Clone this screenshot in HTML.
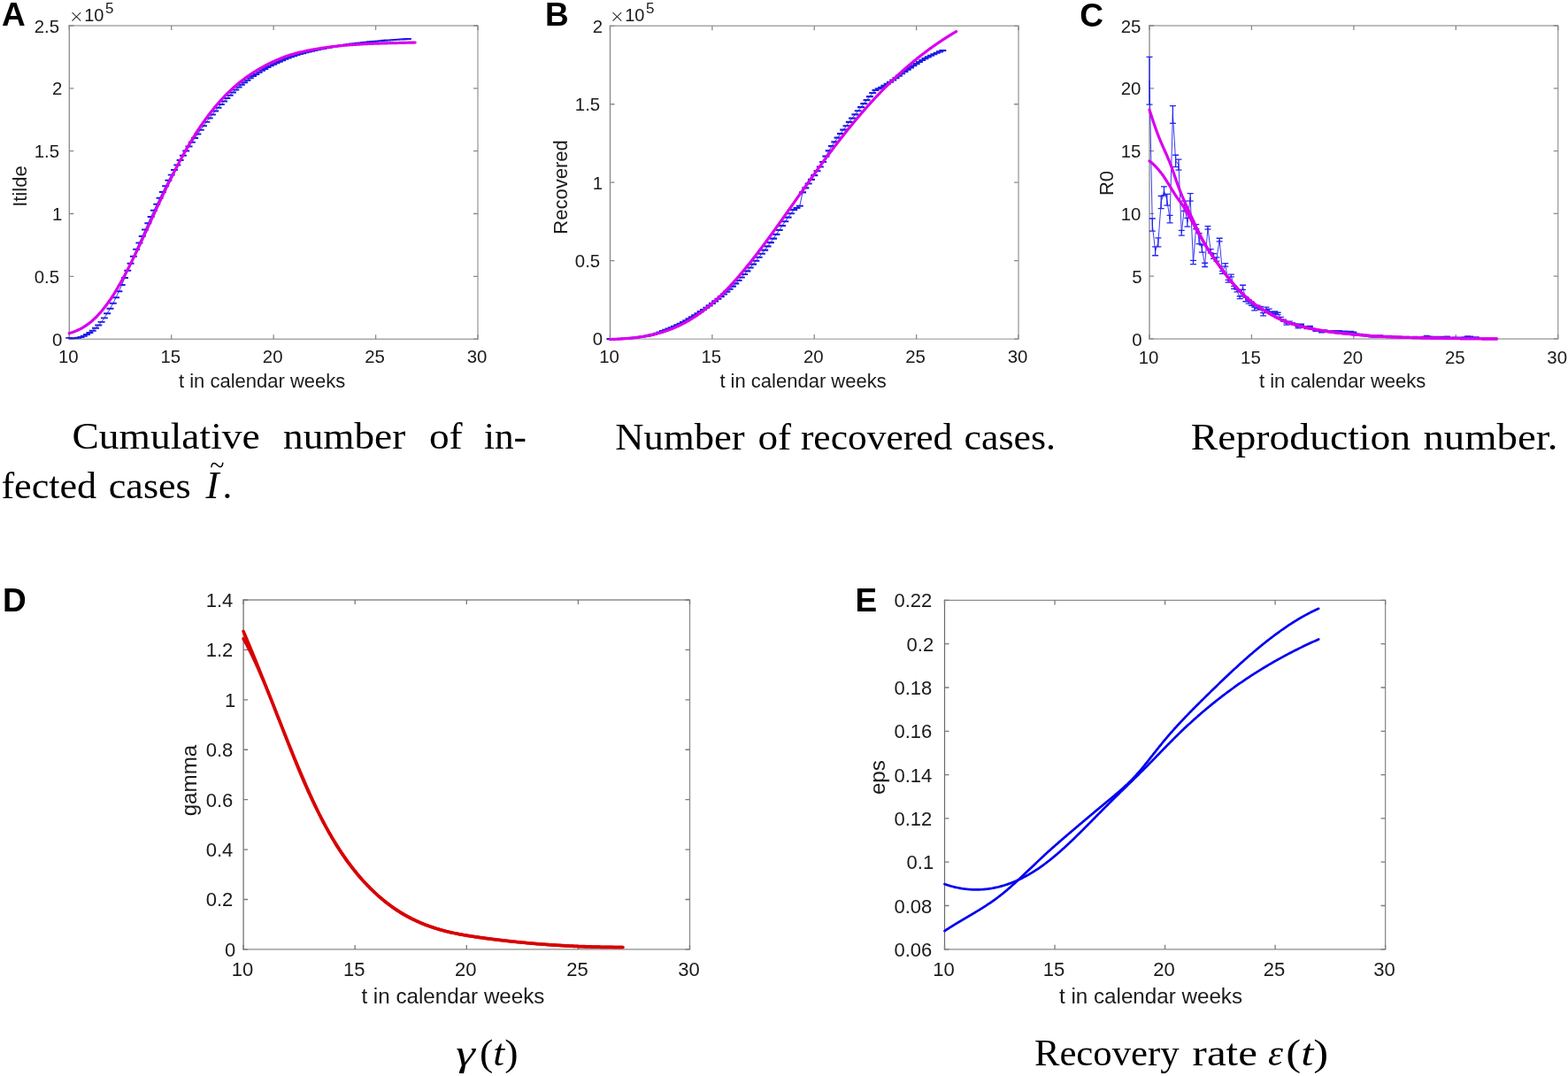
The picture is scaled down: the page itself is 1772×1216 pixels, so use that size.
<!DOCTYPE html>
<html><head><meta charset="utf-8"><title>Figure</title>
<style>html,body{margin:0;padding:0;background:#fff;}body{width:1772px;height:1216px;overflow:hidden;}svg{display:block;}</style>
</head><body>
<svg width="1772" height="1216" viewBox="0 0 1772 1216">
<rect width="1772" height="1216" fill="#fff"/>
<path d="M78.30 29.00H540.00M78.30 383.20H540.00M540.00 29.00V383.20" stroke="#a6a6a6" stroke-width="1.45" fill="none" stroke-linecap="square"/>
<path d="M78.30 29.00V383.20" stroke="#8a8a8a" stroke-width="1.30" fill="none" stroke-linecap="square"/>
<path d="M78.30 383.20v-5.00M78.30 29.00v5.00M193.72 383.20v-5.00M193.72 29.00v5.00M309.15 383.20v-5.00M309.15 29.00v5.00M424.57 383.20v-5.00M424.57 29.00v5.00M540.00 383.20v-5.00M540.00 29.00v5.00M78.30 383.20h5.00M540.00 383.20h-5.00M78.30 312.36h5.00M540.00 312.36h-5.00M78.30 241.52h5.00M540.00 241.52h-5.00M78.30 170.68h5.00M540.00 170.68h-5.00M78.30 99.84h5.00M540.00 99.84h-5.00M78.30 29.00h5.00M540.00 29.00h-5.00" stroke="#8a8a8a" stroke-width="1.3" fill="none"/>
<polyline points="78.30,381.89 81.60,382.17 84.90,382.11 88.19,381.71 91.49,380.98 94.79,379.75 98.09,378.03 101.38,376.02 104.68,373.66 107.98,370.83 111.28,367.59 114.58,363.88 117.87,359.35 121.17,354.20 124.47,348.71 127.77,342.78 131.07,336.24 134.36,329.28 137.66,321.96 140.96,313.99 144.26,305.82 147.56,297.78 150.85,289.67 154.15,281.84 157.45,274.40 160.75,266.98 164.04,259.55 167.34,252.18 170.64,244.95 173.94,237.84 177.24,230.78 180.53,223.83 183.83,217.02 187.13,210.31 190.43,203.75 193.72,197.64 197.02,191.91 200.32,186.40 203.62,181.01 206.92,175.67 210.21,170.51 213.51,165.54 216.81,160.75 220.11,156.08 223.41,151.46 226.70,146.87 230.00,142.30 233.30,137.86 236.60,133.58 239.89,129.47 243.19,125.52 246.49,121.70 249.79,118.02 253.09,114.48 256.38,111.05 259.68,107.73 262.98,104.54 266.28,101.48 269.58,98.56 272.87,95.78 276.17,93.17 279.47,90.66 282.77,88.28 286.06,86.04 289.36,83.92 292.66,81.85 295.96,79.85 299.26,77.93 302.55,76.09 305.85,74.36 309.15,72.73 312.45,71.17 315.75,69.65 319.04,68.18 322.34,66.78 325.64,65.47 328.94,64.25 332.24,63.15 335.53,62.10 338.83,61.11 342.13,60.17 345.43,59.29 348.72,58.46 352.02,57.68 355.32,56.95 358.62,56.25 361.92,55.59 365.21,54.95 368.51,54.32 371.81,53.70 375.11,53.09 378.41,52.50 381.70,51.94 385.00,51.41 388.30,50.91 391.60,50.44 394.89,50.00 398.19,49.57 401.49,49.16 404.79,48.76 408.09,48.37 411.38,48.00 414.68,47.65 417.98,47.31 421.28,46.98 424.57,46.68 427.87,46.38 431.17,46.11 434.47,45.85 437.77,45.60 441.06,45.35 444.36,45.11 447.66,44.87 450.96,44.63 454.26,44.40 457.55,44.17 460.85,43.95" fill="none" stroke="#1c1ce6" stroke-width="0.90" stroke-linejoin="round" stroke-linecap="round"/>
<path d="M78.30 381.54V382.24M74.30 381.54h8.00M74.30 382.24h8.00M81.60 381.82V382.53M77.60 381.82h8.00M77.60 382.53h8.00M84.90 381.75V382.46M80.90 381.75h8.00M80.90 382.46h8.00M88.19 381.36V382.07M84.19 381.36h8.00M84.19 382.07h8.00M91.49 380.63V381.34M87.49 380.63h8.00M87.49 381.34h8.00M94.79 379.40V380.11M90.79 379.40h8.00M90.79 380.11h8.00M98.09 377.68V378.39M94.09 377.68h8.00M94.09 378.39h8.00M101.38 375.67V376.38M97.38 375.67h8.00M97.38 376.38h8.00M104.68 373.30V374.01M100.68 373.30h8.00M100.68 374.01h8.00M107.98 370.48V371.19M103.98 370.48h8.00M103.98 371.19h8.00M111.28 367.23V367.94M107.28 367.23h8.00M107.28 367.94h8.00M114.58 363.53V364.23M110.58 363.53h8.00M110.58 364.23h8.00M117.87 359.00V359.71M113.87 359.00h8.00M113.87 359.71h8.00M121.17 353.85V354.56M117.17 353.85h8.00M117.17 354.56h8.00M124.47 348.35V349.06M120.47 348.35h8.00M120.47 349.06h8.00M127.77 342.42V343.13M123.77 342.42h8.00M123.77 343.13h8.00M131.07 335.89V336.60M127.07 335.89h8.00M127.07 336.60h8.00M134.36 328.92V329.63M130.36 328.92h8.00M130.36 329.63h8.00M137.66 321.61V322.31M133.66 321.61h8.00M133.66 322.31h8.00M140.96 313.64V314.35M136.96 313.64h8.00M136.96 314.35h8.00M144.26 305.46V306.17M140.26 305.46h8.00M140.26 306.17h8.00M147.56 297.43V298.14M143.56 297.43h8.00M143.56 298.14h8.00M150.85 289.32V290.03M146.85 289.32h8.00M146.85 290.03h8.00M154.15 281.49V282.20M150.15 281.49h8.00M150.15 282.20h8.00M157.45 274.04V274.75M153.45 274.04h8.00M153.45 274.75h8.00M160.75 266.63V267.34M156.75 266.63h8.00M156.75 267.34h8.00M164.04 259.20V259.91M160.04 259.20h8.00M160.04 259.91h8.00M167.34 251.82V252.53M163.34 251.82h8.00M163.34 252.53h8.00M170.64 244.60V245.31M166.64 244.60h8.00M166.64 245.31h8.00M173.94 237.49V238.20M169.94 237.49h8.00M169.94 238.20h8.00M177.24 230.43V231.14M173.24 230.43h8.00M173.24 231.14h8.00M180.53 223.47V224.18M176.53 223.47h8.00M176.53 224.18h8.00M183.83 216.67V217.38M179.83 216.67h8.00M179.83 217.38h8.00M187.13 209.95V210.66M183.13 209.95h8.00M183.13 210.66h8.00M190.43 203.39V204.10M186.43 203.39h8.00M186.43 204.10h8.00M193.72 197.28V197.99M189.72 197.28h8.00M189.72 197.99h8.00M197.02 191.55V192.26M193.02 191.55h8.00M193.02 192.26h8.00M200.32 186.04V186.75M196.32 186.04h8.00M196.32 186.75h8.00M203.62 180.65V181.36M199.62 180.65h8.00M199.62 181.36h8.00M206.92 175.31V176.02M202.92 175.31h8.00M202.92 176.02h8.00M210.21 170.16V170.86M206.21 170.16h8.00M206.21 170.86h8.00M213.51 165.19V165.90M209.51 165.19h8.00M209.51 165.90h8.00M216.81 160.40V161.11M212.81 160.40h8.00M212.81 161.11h8.00M220.11 155.72V156.43M216.11 155.72h8.00M216.11 156.43h8.00M223.41 151.10V151.81M219.41 151.10h8.00M219.41 151.81h8.00M226.70 146.51V147.22M222.70 146.51h8.00M222.70 147.22h8.00M230.00 141.94V142.65M226.00 141.94h8.00M226.00 142.65h8.00M233.30 137.50V138.21M229.30 137.50h8.00M229.30 138.21h8.00M236.60 133.22V133.93M232.60 133.22h8.00M232.60 133.93h8.00M239.89 129.12V129.82M235.89 129.12h8.00M235.89 129.82h8.00M243.19 125.16V125.87M239.19 125.16h8.00M239.19 125.87h8.00M246.49 121.34V122.05M242.49 121.34h8.00M242.49 122.05h8.00M249.79 117.67V118.37M245.79 117.67h8.00M245.79 118.37h8.00M253.09 114.13V114.84M249.09 114.13h8.00M249.09 114.84h8.00M256.38 110.69V111.40M252.38 110.69h8.00M252.38 111.40h8.00M259.68 107.37V108.08M255.68 107.37h8.00M255.68 108.08h8.00M262.98 104.18V104.89M258.98 104.18h8.00M258.98 104.89h8.00M266.28 101.13V101.84M262.28 101.13h8.00M262.28 101.84h8.00M269.58 98.21V98.91M265.58 98.21h8.00M265.58 98.91h8.00M272.87 95.43V96.14M268.87 95.43h8.00M268.87 96.14h8.00M276.17 92.81V93.52M272.17 92.81h8.00M272.17 93.52h8.00M279.47 90.30V91.01M275.47 90.30h8.00M275.47 91.01h8.00M282.77 87.92V88.63M278.77 87.92h8.00M278.77 88.63h8.00M286.06 85.69V86.40M282.06 85.69h8.00M282.06 86.40h8.00M289.36 83.56V84.27M285.36 83.56h8.00M285.36 84.27h8.00M292.66 81.50V82.20M288.66 81.50h8.00M288.66 82.20h8.00M295.96 79.50V80.20M291.96 79.50h8.00M291.96 80.20h8.00M299.26 77.57V78.28M295.26 77.57h8.00M295.26 78.28h8.00M302.55 75.74V76.45M298.55 75.74h8.00M298.55 76.45h8.00M305.85 74.01V74.71M301.85 74.01h8.00M301.85 74.71h8.00M309.15 72.37V73.08M305.15 72.37h8.00M305.15 73.08h8.00M312.45 70.81V71.52M308.45 70.81h8.00M308.45 71.52h8.00M315.75 69.29V70.00M311.75 69.29h8.00M311.75 70.00h8.00M319.04 67.83V68.54M315.04 67.83h8.00M315.04 68.54h8.00M322.34 66.43V67.14M318.34 66.43h8.00M318.34 67.14h8.00M325.64 65.11V65.82M321.64 65.11h8.00M321.64 65.82h8.00M328.94 63.90V64.61M324.94 63.90h8.00M324.94 64.61h8.00M332.24 62.79V63.50M328.24 62.79h8.00M328.24 63.50h8.00M335.53 61.75V62.46M331.53 61.75h8.00M331.53 62.46h8.00M338.83 60.75V61.46M334.83 60.75h8.00M334.83 61.46h8.00M342.13 59.81V60.52M338.13 59.81h8.00M338.13 60.52h8.00M345.43 58.93V59.64M341.43 58.93h8.00M341.43 59.64h8.00M348.72 58.11V58.81M344.72 58.11h8.00M344.72 58.81h8.00M352.02 57.33V58.04M348.02 57.33h8.00M348.02 58.04h8.00M355.32 56.59V57.30M351.32 56.59h8.00M351.32 57.30h8.00M358.62 55.90V56.61M354.62 55.90h8.00M354.62 56.61h8.00M361.92 55.24V55.95M357.92 55.24h8.00M357.92 55.95h8.00M365.21 54.60V55.31M361.21 54.60h8.00M361.21 55.31h8.00M368.51 53.96V54.67M364.51 53.96h8.00M364.51 54.67h8.00M371.81 53.34V54.05M367.81 53.34h8.00M367.81 54.05h8.00M375.11 52.74V53.44M371.11 52.74h8.00M371.11 53.44h8.00M378.41 52.15V52.86M374.41 52.15h8.00M374.41 52.86h8.00M381.70 51.59V52.30M377.70 51.59h8.00M377.70 52.30h8.00M385.00 51.05V51.76M381.00 51.05h8.00M381.00 51.76h8.00M388.30 50.55V51.26M384.30 50.55h8.00M384.30 51.26h8.00M391.60 50.09V50.80M387.60 50.09h8.00M387.60 50.80h8.00M394.89 49.65V50.35M390.89 49.65h8.00M390.89 50.35h8.00M398.19 49.22V49.93M394.19 49.22h8.00M394.19 49.93h8.00M401.49 48.80V49.51M397.49 48.80h8.00M397.49 49.51h8.00M404.79 48.40V49.11M400.79 48.40h8.00M400.79 49.11h8.00M408.09 48.02V48.73M404.09 48.02h8.00M404.09 48.73h8.00M411.38 47.65V48.36M407.38 47.65h8.00M407.38 48.36h8.00M414.68 47.29V48.00M410.68 47.29h8.00M410.68 48.00h8.00M417.98 46.95V47.66M413.98 46.95h8.00M413.98 47.66h8.00M421.28 46.63V47.34M417.28 46.63h8.00M417.28 47.34h8.00M424.57 46.32V47.03M420.57 46.32h8.00M420.57 47.03h8.00M427.87 46.03V46.74M423.87 46.03h8.00M423.87 46.74h8.00M431.17 45.75V46.46M427.17 45.75h8.00M427.17 46.46h8.00M434.47 45.49V46.20M430.47 45.49h8.00M430.47 46.20h8.00M437.77 45.24V45.95M433.77 45.24h8.00M433.77 45.95h8.00M441.06 45.00V45.71M437.06 45.00h8.00M437.06 45.71h8.00M444.36 44.76V45.47M440.36 44.76h8.00M440.36 45.47h8.00M447.66 44.52V45.23M443.66 44.52h8.00M443.66 45.23h8.00M450.96 44.28V44.99M446.96 44.28h8.00M446.96 44.99h8.00M454.26 44.05V44.76M450.26 44.05h8.00M450.26 44.76h8.00M457.55 43.82V44.53M453.55 43.82h8.00M453.55 44.53h8.00M460.85 43.60V44.31M456.85 43.60h8.00M456.85 44.31h8.00" stroke="#1c1ce6" stroke-width="1.25" fill="none"/>
<polyline points="78.30,376.65 79.28,376.38 80.26,376.09 81.24,375.77 82.22,375.43 83.20,375.08 84.18,374.70 85.16,374.30 86.14,373.89 87.12,373.46 88.10,373.01 89.07,372.56 90.05,372.09 91.03,371.59 92.01,371.07 92.99,370.52 93.97,369.94 94.95,369.33 95.93,368.70 96.91,368.05 97.89,367.37 98.87,366.67 99.85,365.96 100.83,365.23 101.81,364.47 102.79,363.69 103.77,362.87 104.75,362.01 105.73,361.12 106.71,360.20 107.69,359.26 108.67,358.28 109.64,357.28 110.62,356.26 111.60,355.22 112.58,354.16 113.56,353.07 114.54,351.95 115.52,350.78 116.50,349.59 117.48,348.35 118.46,347.09 119.44,345.80 120.42,344.48 121.40,343.14 122.38,341.77 123.36,340.39 124.34,338.98 125.32,337.55 126.30,336.09 127.28,334.58 128.26,333.05 129.24,331.49 130.21,329.89 131.19,328.27 132.17,326.63 133.15,324.97 134.13,323.29 135.11,321.59 136.09,319.88 137.07,318.15 138.05,316.39 139.03,314.59 140.01,312.77 140.99,310.93 141.97,309.07 142.95,307.18 143.93,305.28 144.91,303.37 145.89,301.44 146.87,299.51 147.85,297.57 148.83,295.61 149.81,293.62 150.78,291.62 151.76,289.60 152.74,287.57 153.72,285.52 154.70,283.46 155.68,281.40 156.66,279.32 157.64,277.25 158.62,275.17 159.60,273.09 160.58,271.00 161.56,268.90 162.54,266.79 163.52,264.67 164.50,262.54 165.48,260.41 166.46,258.28 167.44,256.15 168.42,254.02 169.40,251.89 170.38,249.78 171.35,247.66 172.33,245.54 173.31,243.42 174.29,241.30 175.27,239.17 176.25,237.05 177.23,234.94 178.21,232.82 179.19,230.72 180.17,228.62 181.15,226.54 182.13,224.47 183.11,222.40 184.09,220.34 185.07,218.29 186.05,216.23 187.03,214.19 188.01,212.16 188.99,210.13 189.97,208.12 190.94,206.11 191.92,204.13 192.90,202.15 193.88,200.20 194.86,198.25 195.84,196.31 196.82,194.39 197.80,192.47 198.78,190.57 199.76,188.67 200.74,186.80 201.72,184.93 202.70,183.09 203.68,181.26 204.66,179.44 205.64,177.65 206.62,175.87 207.60,174.10 208.58,172.34 209.56,170.60 210.54,168.87 211.51,167.16 212.49,165.46 213.47,163.78 214.45,162.12 215.43,160.48 216.41,158.85 217.39,157.25 218.37,155.65 219.35,154.08 220.33,152.51 221.31,150.96 222.29,149.43 223.27,147.91 224.25,146.41 225.23,144.93 226.21,143.46 227.19,142.02 228.17,140.59 229.15,139.18 230.13,137.78 231.11,136.40 232.08,135.04 233.06,133.68 234.04,132.35 235.02,131.03 236.00,129.72 236.98,128.44 237.96,127.17 238.94,125.91 239.92,124.68 240.90,123.46 241.88,122.26 242.86,121.07 243.84,119.89 244.82,118.73 245.80,117.58 246.78,116.45 247.76,115.33 248.74,114.23 249.72,113.15 250.70,112.08 251.68,111.02 252.65,109.98 253.63,108.96 254.61,107.94 255.59,106.94 256.57,105.96 257.55,104.98 258.53,104.02 259.51,103.08 260.49,102.15 261.47,101.23 262.45,100.33 263.43,99.44 264.41,98.56 265.39,97.70 266.37,96.84 267.35,96.00 268.33,95.17 269.31,94.35 270.29,93.55 271.27,92.76 272.25,91.97 273.22,91.21 274.20,90.45 275.18,89.71 276.16,88.97 277.14,88.25 278.12,87.53 279.10,86.82 280.08,86.13 281.06,85.44 282.04,84.77 283.02,84.11 284.00,83.46 284.98,82.83 285.96,82.21 286.94,81.61 287.92,81.00 288.90,80.40 289.88,79.81 290.86,79.22 291.84,78.64 292.82,78.07 293.79,77.49 294.77,76.93 295.75,76.37 296.73,75.82 297.71,75.28 298.69,74.74 299.67,74.21 300.65,73.69 301.63,73.18 302.61,72.67 303.59,72.17 304.57,71.68 305.55,71.20 306.53,70.73 307.51,70.27 308.49,69.82 309.47,69.38 310.45,68.94 311.43,68.51 312.41,68.07 313.39,67.65 314.36,67.23 315.34,66.81 316.32,66.40 317.30,65.99 318.28,65.59 319.26,65.20 320.24,64.81 321.22,64.44 322.20,64.07 323.18,63.71 324.16,63.36 325.14,63.02 326.12,62.68 327.10,62.36 328.08,62.05 329.06,61.75 330.04,61.47 331.02,61.19 332.00,60.92 332.98,60.66 333.96,60.40 334.93,60.14 335.91,59.89 336.89,59.64 337.87,59.40 338.85,59.16 339.83,58.93 340.81,58.69 341.79,58.47 342.77,58.25 343.75,58.03 344.73,57.81 345.71,57.60 346.69,57.39 347.67,57.19 348.65,56.99 349.63,56.80 350.61,56.61 351.59,56.42 352.57,56.23 353.55,56.05 354.53,55.88 355.50,55.70 356.48,55.54 357.46,55.37 358.44,55.21 359.42,55.05 360.40,54.89 361.38,54.74 362.36,54.59 363.34,54.44 364.32,54.30 365.30,54.15 366.28,54.01 367.26,53.87 368.24,53.73 369.22,53.59 370.20,53.46 371.18,53.32 372.16,53.19 373.14,53.07 374.12,52.94 375.09,52.82 376.07,52.69 377.05,52.57 378.03,52.46 379.01,52.34 379.99,52.23 380.97,52.12 381.95,52.01 382.93,51.91 383.91,51.81 384.89,51.71 385.87,51.61 386.85,51.52 387.83,51.42 388.81,51.34 389.79,51.25 390.77,51.17 391.75,51.09 392.73,51.01 393.71,50.93 394.69,50.86 395.66,50.78 396.64,50.71 397.62,50.64 398.60,50.56 399.58,50.49 400.56,50.43 401.54,50.36 402.52,50.29 403.50,50.23 404.48,50.16 405.46,50.10 406.44,50.04 407.42,49.98 408.40,49.92 409.38,49.86 410.36,49.81 411.34,49.75 412.32,49.70 413.30,49.65 414.28,49.60 415.26,49.55 416.23,49.51 417.21,49.46 418.19,49.42 419.17,49.37 420.15,49.33 421.13,49.29 422.11,49.26 423.09,49.22 424.07,49.19 425.05,49.15 426.03,49.12 427.01,49.09 427.99,49.06 428.97,49.03 429.95,49.00 430.93,48.97 431.91,48.95 432.89,48.92 433.87,48.89 434.85,48.87 435.83,48.84 436.80,48.82 437.78,48.80 438.76,48.77 439.74,48.75 440.72,48.72 441.70,48.70 442.68,48.68 443.66,48.65 444.64,48.63 445.62,48.60 446.60,48.58 447.58,48.55 448.56,48.53 449.54,48.50 450.52,48.48 451.50,48.45 452.48,48.43 453.46,48.40 454.44,48.38 455.42,48.35 456.40,48.33 457.37,48.31 458.35,48.28 459.33,48.26 460.31,48.23 461.29,48.21 462.27,48.19 463.25,48.16 464.23,48.14 465.21,48.11 466.19,48.09 467.17,48.07 468.15,48.05 469.13,48.02" fill="none" stroke="#d800ee" stroke-width="3.20" stroke-linejoin="round" stroke-linecap="round"/>
<text x="70.30" y="390.80" font-family='"Liberation Sans", Arial, Helvetica, sans-serif' font-size="20.40" font-weight="normal" fill="#1a1a1a" text-anchor="end">0</text>
<text x="67.10" y="319.96" font-family='"Liberation Sans", Arial, Helvetica, sans-serif' font-size="20.40" font-weight="normal" fill="#1a1a1a" text-anchor="end">0.5</text>
<text x="70.30" y="249.12" font-family='"Liberation Sans", Arial, Helvetica, sans-serif' font-size="20.40" font-weight="normal" fill="#1a1a1a" text-anchor="end">1</text>
<text x="67.10" y="178.28" font-family='"Liberation Sans", Arial, Helvetica, sans-serif' font-size="20.40" font-weight="normal" fill="#1a1a1a" text-anchor="end">1.5</text>
<text x="70.30" y="107.44" font-family='"Liberation Sans", Arial, Helvetica, sans-serif' font-size="20.40" font-weight="normal" fill="#1a1a1a" text-anchor="end">2</text>
<text x="67.10" y="36.60" font-family='"Liberation Sans", Arial, Helvetica, sans-serif' font-size="20.40" font-weight="normal" fill="#1a1a1a" text-anchor="end">2.5</text>
<text x="77.30" y="410.30" font-family='"Liberation Sans", Arial, Helvetica, sans-serif' font-size="20.40" font-weight="normal" fill="#1a1a1a" text-anchor="middle">10</text>
<text x="192.72" y="410.30" font-family='"Liberation Sans", Arial, Helvetica, sans-serif' font-size="20.40" font-weight="normal" fill="#1a1a1a" text-anchor="middle">15</text>
<text x="308.15" y="410.30" font-family='"Liberation Sans", Arial, Helvetica, sans-serif' font-size="20.40" font-weight="normal" fill="#1a1a1a" text-anchor="middle">20</text>
<text x="423.57" y="410.30" font-family='"Liberation Sans", Arial, Helvetica, sans-serif' font-size="20.40" font-weight="normal" fill="#1a1a1a" text-anchor="middle">25</text>
<text x="539.00" y="410.30" font-family='"Liberation Sans", Arial, Helvetica, sans-serif' font-size="20.40" font-weight="normal" fill="#1a1a1a" text-anchor="middle">30</text>
<text x="202.00" y="437.50" font-family='"Liberation Sans", Arial, Helvetica, sans-serif' font-size="22.00" font-weight="normal" fill="#1a1a1a" text-anchor="start">t in calendar weeks</text>
<text x="30.00" y="210.60" font-family='"Liberation Sans", Arial, Helvetica, sans-serif' font-size="22.00" font-weight="normal" fill="#1a1a1a" text-anchor="middle" transform="rotate(-90 30 210.6)">Itilde</text>
<text x="78.00" y="24.75" font-family="'DejaVu Sans', sans-serif" font-weight="200" font-size="20" fill="#1a1a1a">&#215;</text>
<text x="95.20" y="24.20" font-family='"Liberation Sans", Arial, Helvetica, sans-serif' font-size="20.00" font-weight="normal" fill="#1a1a1a" text-anchor="start">10</text>
<text x="118.90" y="14.80" font-family='"Liberation Sans", Arial, Helvetica, sans-serif' font-size="17.00" font-weight="normal" fill="#1a1a1a" text-anchor="start">5</text>
<text x="2.00" y="29.40" font-family='"Liberation Sans", Arial, Helvetica, sans-serif' font-size="37.00" font-weight="bold" fill="#000" text-anchor="start">A</text>
<path d="M689.50 29.30H1151.00M689.50 383.10H1151.00M1151.00 29.30V383.10" stroke="#a6a6a6" stroke-width="1.45" fill="none" stroke-linecap="square"/>
<path d="M689.50 29.30V383.10" stroke="#8a8a8a" stroke-width="1.30" fill="none" stroke-linecap="square"/>
<path d="M689.50 383.10v-5.00M689.50 29.30v5.00M804.88 383.10v-5.00M804.88 29.30v5.00M920.25 383.10v-5.00M920.25 29.30v5.00M1035.62 383.10v-5.00M1035.62 29.30v5.00M1151.00 383.10v-5.00M1151.00 29.30v5.00M689.50 383.10h5.00M1151.00 383.10h-5.00M689.50 294.65h5.00M1151.00 294.65h-5.00M689.50 206.20h5.00M1151.00 206.20h-5.00M689.50 117.75h5.00M1151.00 117.75h-5.00M689.50 29.30h5.00M1151.00 29.30h-5.00" stroke="#8a8a8a" stroke-width="1.3" fill="none"/>
<polyline points="689.50,383.10 692.80,383.10 696.09,383.10 699.39,383.10 702.69,382.90 705.98,382.68 709.28,382.42 712.58,382.12 715.87,381.78 719.17,381.40 722.46,380.97 725.76,380.48 729.06,379.94 732.35,379.34 735.65,378.67 738.95,377.83 742.24,376.74 745.54,375.50 748.84,374.18 752.13,372.86 755.43,371.60 758.73,370.28 762.02,368.87 765.32,367.37 768.61,365.77 771.91,364.07 775.21,362.28 778.50,360.38 781.80,358.37 785.10,356.32 788.39,354.25 791.69,352.13 794.99,349.96 798.28,347.71 801.58,345.36 804.88,342.89 808.17,340.35 811.47,337.78 814.76,335.16 818.06,332.46 821.36,329.65 824.65,326.70 827.95,323.59 831.25,320.34 834.54,316.99 837.84,313.53 841.14,309.97 844.43,306.30 847.73,302.54 851.02,298.68 854.32,294.75 857.62,290.79 860.91,286.75 864.21,282.64 867.51,278.42 870.80,274.07 874.10,269.59 877.40,264.88 880.69,259.99 883.99,255.06 887.29,250.24 890.58,245.65 893.88,241.29 897.17,237.11 900.47,235.01 903.77,232.71 907.06,217.37 910.36,212.36 913.66,207.55 916.95,202.82 920.25,198.06 923.55,193.29 926.84,188.47 930.14,182.96 933.44,176.60 936.73,170.36 940.03,165.12 943.33,160.31 946.62,155.65 949.92,151.11 953.21,146.64 956.51,142.21 959.81,137.85 963.10,133.57 966.40,129.35 969.70,125.22 972.99,121.17 976.29,117.16 979.59,113.18 982.88,109.05 986.18,104.96 989.48,101.86 992.77,100.19 996.07,98.69 999.36,96.74 1002.66,94.79 1005.96,92.73 1009.25,90.46 1012.55,88.07 1015.85,85.65 1019.14,83.23 1022.44,80.87 1025.74,78.60 1029.03,76.38 1032.33,74.20 1035.62,72.07 1038.92,70.01 1042.22,68.04 1045.51,66.17 1048.81,64.41 1052.11,62.75 1055.40,61.20 1058.70,59.74 1062.00,58.38 1065.29,57.10" fill="none" stroke="#1c1ce6" stroke-width="0.90" stroke-linejoin="round" stroke-linecap="round"/>
<path d="M689.50 382.66V383.54M685.50 382.66h8.00M685.50 383.54h8.00M692.80 382.66V383.54M688.80 382.66h8.00M688.80 383.54h8.00M696.09 382.66V383.54M692.09 382.66h8.00M692.09 383.54h8.00M699.39 382.66V383.54M695.39 382.66h8.00M695.39 383.54h8.00M702.69 382.46V383.34M698.69 382.46h8.00M698.69 383.34h8.00M705.98 382.23V383.12M701.98 382.23h8.00M701.98 383.12h8.00M709.28 381.97V382.86M705.28 381.97h8.00M705.28 382.86h8.00M712.58 381.68V382.56M708.58 381.68h8.00M708.58 382.56h8.00M715.87 381.34V382.22M711.87 381.34h8.00M711.87 382.22h8.00M719.17 380.96V381.84M715.17 380.96h8.00M715.17 381.84h8.00M722.46 380.52V381.41M718.46 380.52h8.00M718.46 381.41h8.00M725.76 380.04V380.92M721.76 380.04h8.00M721.76 380.92h8.00M729.06 379.50V380.38M725.06 379.50h8.00M725.06 380.38h8.00M732.35 378.90V379.78M728.35 378.90h8.00M728.35 379.78h8.00M735.65 378.23V379.11M731.65 378.23h8.00M731.65 379.11h8.00M738.95 377.38V378.27M734.95 377.38h8.00M734.95 378.27h8.00M742.24 376.30V377.19M738.24 376.30h8.00M738.24 377.19h8.00M745.54 375.06V375.95M741.54 375.06h8.00M741.54 375.95h8.00M748.84 373.74V374.63M744.84 373.74h8.00M744.84 374.63h8.00M752.13 372.42V373.30M748.13 372.42h8.00M748.13 373.30h8.00M755.43 371.16V372.04M751.43 371.16h8.00M751.43 372.04h8.00M758.73 369.84V370.72M754.73 369.84h8.00M754.73 370.72h8.00M762.02 368.43V369.32M758.02 368.43h8.00M758.02 369.32h8.00M765.32 366.93V367.81M761.32 366.93h8.00M761.32 367.81h8.00M768.61 365.33V366.21M764.61 365.33h8.00M764.61 366.21h8.00M771.91 363.63V364.52M767.91 363.63h8.00M767.91 364.52h8.00M775.21 361.83V362.72M771.21 361.83h8.00M771.21 362.72h8.00M778.50 359.93V360.82M774.50 359.93h8.00M774.50 360.82h8.00M781.80 357.93V358.82M777.80 357.93h8.00M777.80 358.82h8.00M785.10 355.88V356.76M781.10 355.88h8.00M781.10 356.76h8.00M788.39 353.80V354.69M784.39 353.80h8.00M784.39 354.69h8.00M791.69 351.69V352.58M787.69 351.69h8.00M787.69 352.58h8.00M794.99 349.52V350.41M790.99 349.52h8.00M790.99 350.41h8.00M798.28 347.27V348.16M794.28 347.27h8.00M794.28 348.16h8.00M801.58 344.92V345.80M797.58 344.92h8.00M797.58 345.80h8.00M804.88 342.45V343.33M800.88 342.45h8.00M800.88 343.33h8.00M808.17 339.91V340.79M804.17 339.91h8.00M804.17 340.79h8.00M811.47 337.34V338.22M807.47 337.34h8.00M807.47 338.22h8.00M814.76 334.72V335.60M810.76 334.72h8.00M810.76 335.60h8.00M818.06 332.02V332.90M814.06 332.02h8.00M814.06 332.90h8.00M821.36 329.20V330.09M817.36 329.20h8.00M817.36 330.09h8.00M824.65 326.26V327.14M820.65 326.26h8.00M820.65 327.14h8.00M827.95 323.15V324.04M823.95 323.15h8.00M823.95 324.04h8.00M831.25 319.90V320.79M827.25 319.90h8.00M827.25 320.79h8.00M834.54 316.55V317.43M830.54 316.55h8.00M830.54 317.43h8.00M837.84 313.09V313.97M833.84 313.09h8.00M833.84 313.97h8.00M841.14 309.53V310.41M837.14 309.53h8.00M837.14 310.41h8.00M844.43 305.86V306.75M840.43 305.86h8.00M840.43 306.75h8.00M847.73 302.10V302.98M843.73 302.10h8.00M843.73 302.98h8.00M851.02 298.24V299.12M847.02 298.24h8.00M847.02 299.12h8.00M854.32 294.31V295.20M850.32 294.31h8.00M850.32 295.20h8.00M857.62 290.34V291.23M853.62 290.34h8.00M853.62 291.23h8.00M860.91 286.31V287.20M856.91 286.31h8.00M856.91 287.20h8.00M864.21 282.19V283.08M860.21 282.19h8.00M860.21 283.08h8.00M867.51 277.97V278.86M863.51 277.97h8.00M863.51 278.86h8.00M870.80 273.63V274.52M866.80 273.63h8.00M866.80 274.52h8.00M874.10 269.14V270.03M870.10 269.14h8.00M870.10 270.03h8.00M877.40 264.44V265.32M873.40 264.44h8.00M873.40 265.32h8.00M880.69 259.55V260.43M876.69 259.55h8.00M876.69 260.43h8.00M883.99 254.62V255.50M879.99 254.62h8.00M879.99 255.50h8.00M887.29 249.80V250.68M883.29 249.80h8.00M883.29 250.68h8.00M890.58 245.21V246.09M886.58 245.21h8.00M886.58 246.09h8.00M893.88 240.84V241.73M889.88 240.84h8.00M889.88 241.73h8.00M897.17 236.67V237.55M893.17 236.67h8.00M893.17 237.55h8.00M900.47 234.56V235.45M896.47 234.56h8.00M896.47 235.45h8.00M903.77 232.27V233.15M899.77 232.27h8.00M899.77 233.15h8.00M907.06 216.93V217.81M903.06 216.93h8.00M903.06 217.81h8.00M910.36 211.92V212.80M906.36 211.92h8.00M906.36 212.80h8.00M913.66 207.10V207.99M909.66 207.10h8.00M909.66 207.99h8.00M916.95 202.38V203.26M912.95 202.38h8.00M912.95 203.26h8.00M920.25 197.62V198.51M916.25 197.62h8.00M916.25 198.51h8.00M923.55 192.85V193.73M919.55 192.85h8.00M919.55 193.73h8.00M926.84 188.03V188.92M922.84 188.03h8.00M922.84 188.92h8.00M930.14 182.52V183.40M926.14 182.52h8.00M926.14 183.40h8.00M933.44 176.15V177.04M929.44 176.15h8.00M929.44 177.04h8.00M936.73 169.92V170.81M932.73 169.92h8.00M932.73 170.81h8.00M940.03 164.68V165.56M936.03 164.68h8.00M936.03 165.56h8.00M943.33 159.87V160.75M939.33 159.87h8.00M939.33 160.75h8.00M946.62 155.21V156.10M942.62 155.21h8.00M942.62 156.10h8.00M949.92 150.67V151.55M945.92 150.67h8.00M945.92 151.55h8.00M953.21 146.20V147.08M949.21 146.20h8.00M949.21 147.08h8.00M956.51 141.77V142.65M952.51 141.77h8.00M952.51 142.65h8.00M959.81 137.41V138.29M955.81 137.41h8.00M955.81 138.29h8.00M963.10 133.13V134.01M959.10 133.13h8.00M959.10 134.01h8.00M966.40 128.91V129.79M962.40 128.91h8.00M962.40 129.79h8.00M969.70 124.78V125.66M965.70 124.78h8.00M965.70 125.66h8.00M972.99 120.73V121.61M968.99 120.73h8.00M968.99 121.61h8.00M976.29 116.72V117.61M972.29 116.72h8.00M972.29 117.61h8.00M979.59 112.73V113.62M975.59 112.73h8.00M975.59 113.62h8.00M982.88 108.61V109.50M978.88 108.61h8.00M978.88 109.50h8.00M986.18 104.52V105.40M982.18 104.52h8.00M982.18 105.40h8.00M989.48 101.42V102.30M985.48 101.42h8.00M985.48 102.30h8.00M992.77 99.75V100.64M988.77 99.75h8.00M988.77 100.64h8.00M996.07 98.25V99.13M992.07 98.25h8.00M992.07 99.13h8.00M999.36 96.29V97.18M995.36 96.29h8.00M995.36 97.18h8.00M1002.66 94.34V95.23M998.66 94.34h8.00M998.66 95.23h8.00M1005.96 92.29V93.17M1001.96 92.29h8.00M1001.96 93.17h8.00M1009.25 90.02V90.90M1005.25 90.02h8.00M1005.25 90.90h8.00M1012.55 87.63V88.52M1008.55 87.63h8.00M1008.55 88.52h8.00M1015.85 85.20V86.09M1011.85 85.20h8.00M1011.85 86.09h8.00M1019.14 82.78V83.67M1015.14 82.78h8.00M1015.14 83.67h8.00M1022.44 80.43V81.31M1018.44 80.43h8.00M1018.44 81.31h8.00M1025.74 78.16V79.05M1021.74 78.16h8.00M1021.74 79.05h8.00M1029.03 75.94V76.82M1025.03 75.94h8.00M1025.03 76.82h8.00M1032.33 73.75V74.64M1028.33 73.75h8.00M1028.33 74.64h8.00M1035.62 71.63V72.51M1031.62 71.63h8.00M1031.62 72.51h8.00M1038.92 69.57V70.46M1034.92 69.57h8.00M1034.92 70.46h8.00M1042.22 67.60V68.48M1038.22 67.60h8.00M1038.22 68.48h8.00M1045.51 65.73V66.61M1041.51 65.73h8.00M1041.51 66.61h8.00M1048.81 63.97V64.85M1044.81 63.97h8.00M1044.81 64.85h8.00M1052.11 62.31V63.20M1048.11 62.31h8.00M1048.11 63.20h8.00M1055.40 60.76V61.64M1051.40 60.76h8.00M1051.40 61.64h8.00M1058.70 59.30V60.18M1054.70 59.30h8.00M1054.70 60.18h8.00M1062.00 57.93V58.82M1058.00 57.93h8.00M1058.00 58.82h8.00M1065.29 56.66V57.54M1061.29 56.66h8.00M1061.29 57.54h8.00" stroke="#1c1ce6" stroke-width="1.25" fill="none"/>
<polyline points="689.50,383.54 690.48,383.51 691.46,383.47 692.44,383.43 693.42,383.39 694.40,383.35 695.38,383.30 696.36,383.26 697.34,383.21 698.32,383.16 699.30,383.10 700.28,383.05 701.26,382.99 702.24,382.93 703.22,382.87 704.20,382.80 705.18,382.73 706.16,382.66 707.14,382.59 708.12,382.51 709.11,382.43 710.09,382.35 711.07,382.26 712.05,382.17 713.03,382.07 714.01,381.98 714.99,381.87 715.97,381.77 716.95,381.66 717.93,381.55 718.91,381.43 719.89,381.31 720.87,381.18 721.85,381.05 722.83,380.92 723.81,380.78 724.79,380.63 725.77,380.48 726.75,380.33 727.73,380.17 728.71,380.00 729.69,379.83 730.67,379.65 731.65,379.47 732.63,379.29 733.61,379.09 734.59,378.89 735.57,378.69 736.55,378.48 737.53,378.26 738.51,378.03 739.49,377.80 740.47,377.57 741.45,377.32 742.43,377.07 743.41,376.81 744.39,376.55 745.37,376.28 746.35,376.00 747.33,375.71 748.32,375.42 749.30,375.11 750.28,374.80 751.26,374.49 752.24,374.16 753.22,373.83 754.20,373.48 755.18,373.13 756.16,372.78 757.14,372.41 758.12,372.03 759.10,371.65 760.08,371.26 761.06,370.85 762.04,370.44 763.02,370.02 764.00,369.60 764.98,369.16 765.96,368.71 766.94,368.25 767.92,367.79 768.90,367.31 769.88,366.83 770.86,366.33 771.84,365.83 772.82,365.31 773.80,364.79 774.78,364.26 775.76,363.71 776.74,363.16 777.72,362.60 778.70,362.02 779.68,361.44 780.66,360.84 781.64,360.24 782.62,359.63 783.60,359.00 784.58,358.37 785.56,357.72 786.55,357.07 787.53,356.40 788.51,355.72 789.49,355.04 790.47,354.34 791.45,353.63 792.43,352.91 793.41,352.19 794.39,351.45 795.37,350.70 796.35,349.94 797.33,349.17 798.31,348.39 799.29,347.60 800.27,346.80 801.25,345.98 802.23,345.16 803.21,344.33 804.19,343.49 805.17,342.63 806.15,341.77 807.13,340.90 808.11,340.01 809.09,339.12 810.07,338.22 811.05,337.31 812.03,336.38 813.01,335.45 813.99,334.51 814.97,333.55 815.95,332.59 816.93,331.62 817.91,330.64 818.89,329.65 819.87,328.65 820.85,327.64 821.83,326.62 822.81,325.59 823.79,324.55 824.78,323.51 825.76,322.45 826.74,321.39 827.72,320.31 828.70,319.23 829.68,318.14 830.66,317.04 831.64,315.94 832.62,314.82 833.60,313.70 834.58,312.57 835.56,311.43 836.54,310.28 837.52,309.13 838.50,307.96 839.48,306.79 840.46,305.62 841.44,304.43 842.42,303.24 843.40,302.04 844.38,300.83 845.36,299.62 846.34,298.40 847.32,297.18 848.30,295.94 849.28,294.71 850.26,293.46 851.24,292.21 852.22,290.95 853.20,289.69 854.18,288.42 855.16,287.15 856.14,285.87 857.12,284.58 858.10,283.29 859.08,282.00 860.06,280.70 861.04,279.39 862.02,278.09 863.00,276.77 863.99,275.45 864.97,274.13 865.95,272.80 866.93,271.47 867.91,270.14 868.89,268.80 869.87,267.46 870.85,266.11 871.83,264.77 872.81,263.41 873.79,262.06 874.77,260.70 875.75,259.34 876.73,257.98 877.71,256.61 878.69,255.24 879.67,253.87 880.65,252.50 881.63,251.12 882.61,249.75 883.59,248.37 884.57,246.99 885.55,245.61 886.53,244.22 887.51,242.84 888.49,241.45 889.47,240.07 890.45,238.68 891.43,237.29 892.41,235.90 893.39,234.51 894.37,233.12 895.35,231.73 896.33,230.34 897.31,228.95 898.29,227.56 899.27,226.17 900.25,224.78 901.23,223.39 902.22,222.00 903.20,220.61 904.18,219.22 905.16,217.84 906.14,216.45 907.12,215.06 908.10,213.68 909.08,212.30 910.06,210.92 911.04,209.53 912.02,208.16 913.00,206.78 913.98,205.40 914.96,204.03 915.94,202.66 916.92,201.29 917.90,199.92 918.88,198.55 919.86,197.19 920.84,195.83 921.82,194.47 922.80,193.11 923.78,191.76 924.76,190.41 925.74,189.06 926.72,187.72 927.70,186.37 928.68,185.03 929.66,183.70 930.64,182.36 931.62,181.03 932.60,179.71 933.58,178.38 934.56,177.06 935.54,175.75 936.52,174.44 937.50,173.13 938.48,171.82 939.46,170.52 940.44,169.22 941.43,167.93 942.41,166.64 943.39,165.35 944.37,164.07 945.35,162.79 946.33,161.52 947.31,160.25 948.29,158.98 949.27,157.72 950.25,156.46 951.23,155.21 952.21,153.97 953.19,152.72 954.17,151.48 955.15,150.25 956.13,149.02 957.11,147.80 958.09,146.58 959.07,145.36 960.05,144.15 961.03,142.94 962.01,141.74 962.99,140.55 963.97,139.36 964.95,138.17 965.93,136.99 966.91,135.81 967.89,134.64 968.87,133.48 969.85,132.32 970.83,131.16 971.81,130.01 972.79,128.87 973.77,127.73 974.75,126.59 975.73,125.46 976.71,124.34 977.69,123.22 978.67,122.11 979.66,121.00 980.64,119.90 981.62,118.80 982.60,117.71 983.58,116.62 984.56,115.54 985.54,114.47 986.52,113.40 987.50,112.33 988.48,111.27 989.46,110.22 990.44,109.17 991.42,108.13 992.40,107.09 993.38,106.06 994.36,105.03 995.34,104.01 996.32,103.00 997.30,101.99 998.28,100.99 999.26,99.99 1000.24,98.99 1001.22,98.01 1002.20,97.03 1003.18,96.05 1004.16,95.08 1005.14,94.11 1006.12,93.15 1007.10,92.20 1008.08,91.25 1009.06,90.31 1010.04,89.37 1011.02,88.44 1012.00,87.51 1012.98,86.59 1013.96,85.68 1014.94,84.77 1015.92,83.86 1016.90,82.96 1017.89,82.07 1018.87,81.18 1019.85,80.30 1020.83,79.42 1021.81,78.55 1022.79,77.68 1023.77,76.82 1024.75,75.97 1025.73,75.12 1026.71,74.27 1027.69,73.43 1028.67,72.60 1029.65,71.77 1030.63,70.95 1031.61,70.13 1032.59,69.32 1033.57,68.51 1034.55,67.71 1035.53,66.91 1036.51,66.12 1037.49,65.33 1038.47,64.55 1039.45,63.77 1040.43,63.00 1041.41,62.24 1042.39,61.48 1043.37,60.72 1044.35,59.97 1045.33,59.22 1046.31,58.48 1047.29,57.75 1048.27,57.02 1049.25,56.29 1050.23,55.57 1051.21,54.86 1052.19,54.15 1053.17,53.44 1054.15,52.74 1055.13,52.04 1056.11,51.35 1057.10,50.67 1058.08,49.99 1059.06,49.31 1060.04,48.64 1061.02,47.97 1062.00,47.31 1062.98,46.65 1063.96,46.00 1064.94,45.35 1065.92,44.71 1066.90,44.07 1067.88,43.43 1068.86,42.80 1069.84,42.18 1070.82,41.56 1071.80,40.94 1072.78,40.33 1073.76,39.72 1074.74,39.12 1075.72,38.52 1076.70,37.93 1077.68,37.34 1078.66,36.75 1079.64,36.17 1080.62,35.59" fill="none" stroke="#d800ee" stroke-width="3.20" stroke-linejoin="round" stroke-linecap="round"/>
<text x="681.20" y="390.40" font-family='"Liberation Sans", Arial, Helvetica, sans-serif' font-size="20.40" font-weight="normal" fill="#1a1a1a" text-anchor="end">0</text>
<text x="678.20" y="301.95" font-family='"Liberation Sans", Arial, Helvetica, sans-serif' font-size="20.40" font-weight="normal" fill="#1a1a1a" text-anchor="end">0.5</text>
<text x="681.20" y="213.50" font-family='"Liberation Sans", Arial, Helvetica, sans-serif' font-size="20.40" font-weight="normal" fill="#1a1a1a" text-anchor="end">1</text>
<text x="678.20" y="125.05" font-family='"Liberation Sans", Arial, Helvetica, sans-serif' font-size="20.40" font-weight="normal" fill="#1a1a1a" text-anchor="end">1.5</text>
<text x="681.20" y="36.60" font-family='"Liberation Sans", Arial, Helvetica, sans-serif' font-size="20.40" font-weight="normal" fill="#1a1a1a" text-anchor="end">2</text>
<text x="688.50" y="410.30" font-family='"Liberation Sans", Arial, Helvetica, sans-serif' font-size="20.40" font-weight="normal" fill="#1a1a1a" text-anchor="middle">10</text>
<text x="803.88" y="410.30" font-family='"Liberation Sans", Arial, Helvetica, sans-serif' font-size="20.40" font-weight="normal" fill="#1a1a1a" text-anchor="middle">15</text>
<text x="919.25" y="410.30" font-family='"Liberation Sans", Arial, Helvetica, sans-serif' font-size="20.40" font-weight="normal" fill="#1a1a1a" text-anchor="middle">20</text>
<text x="1034.62" y="410.30" font-family='"Liberation Sans", Arial, Helvetica, sans-serif' font-size="20.40" font-weight="normal" fill="#1a1a1a" text-anchor="middle">25</text>
<text x="1150.00" y="410.30" font-family='"Liberation Sans", Arial, Helvetica, sans-serif' font-size="20.40" font-weight="normal" fill="#1a1a1a" text-anchor="middle">30</text>
<text x="813.40" y="437.50" font-family='"Liberation Sans", Arial, Helvetica, sans-serif' font-size="22.00" font-weight="normal" fill="#1a1a1a" text-anchor="start">t in calendar weeks</text>
<text x="641.20" y="211.50" font-family='"Liberation Sans", Arial, Helvetica, sans-serif' font-size="22.00" font-weight="normal" fill="#1a1a1a" text-anchor="middle" transform="rotate(-90 641.2 211.5)">Recovered</text>
<text x="689.00" y="24.60" font-family="'DejaVu Sans', sans-serif" font-weight="200" font-size="20" fill="#1a1a1a">&#215;</text>
<text x="706.20" y="24.30" font-family='"Liberation Sans", Arial, Helvetica, sans-serif' font-size="20.00" font-weight="normal" fill="#1a1a1a" text-anchor="start">10</text>
<text x="729.90" y="14.70" font-family='"Liberation Sans", Arial, Helvetica, sans-serif' font-size="17.00" font-weight="normal" fill="#1a1a1a" text-anchor="start">5</text>
<text x="616.00" y="29.00" font-family='"Liberation Sans", Arial, Helvetica, sans-serif' font-size="37.00" font-weight="bold" fill="#000" text-anchor="start">B</text>
<path d="M1299.00 29.00H1760.70M1299.00 382.90H1760.70M1760.70 29.00V382.90" stroke="#a6a6a6" stroke-width="1.45" fill="none" stroke-linecap="square"/>
<path d="M1299.00 29.00V382.90" stroke="#8a8a8a" stroke-width="1.30" fill="none" stroke-linecap="square"/>
<path d="M1299.00 382.90v-5.00M1299.00 29.00v5.00M1414.42 382.90v-5.00M1414.42 29.00v5.00M1529.85 382.90v-5.00M1529.85 29.00v5.00M1645.28 382.90v-5.00M1645.28 29.00v5.00M1760.70 382.90v-5.00M1760.70 29.00v5.00M1299.00 382.90h5.00M1760.70 382.90h-5.00M1299.00 312.12h5.00M1760.70 312.12h-5.00M1299.00 241.34h5.00M1760.70 241.34h-5.00M1299.00 170.56h5.00M1760.70 170.56h-5.00M1299.00 99.78h5.00M1760.70 99.78h-5.00M1299.00 29.00h5.00M1760.70 29.00h-5.00" stroke="#8a8a8a" stroke-width="1.3" fill="none"/>
<polyline points="1299.00,91.29 1302.30,254.08 1305.60,283.81 1308.89,273.90 1312.19,228.60 1315.49,215.86 1318.79,225.77 1322.09,247.71 1325.38,129.51 1328.68,181.88 1331.98,186.13 1335.28,263.28 1338.57,232.85 1341.87,251.25 1345.17,222.94 1348.47,296.55 1351.77,256.20 1355.06,269.65 1358.36,280.98 1361.66,299.38 1364.96,257.34 1368.26,283.81 1371.55,289.47 1374.85,293.01 1378.15,271.07 1381.45,307.87 1384.74,299.38 1388.04,317.78 1391.34,311.55 1394.64,324.86 1397.94,328.40 1401.23,336.19 1404.53,324.78 1407.83,338.39 1411.13,340.82 1414.42,343.15 1417.72,348.97 1421.02,346.87 1424.32,348.25 1427.62,355.20 1430.91,348.69 1434.21,350.61 1437.51,353.65 1440.81,353.26 1444.11,354.44 1447.40,359.51 1450.70,362.24 1454.00,366.13 1457.30,364.04 1460.60,365.86 1463.89,366.68 1467.19,370.06 1470.49,366.81 1473.79,369.53 1477.08,370.90 1480.38,369.03 1483.68,371.88 1486.98,373.81 1490.28,373.39 1493.57,375.49 1496.87,373.22 1500.17,374.77 1503.47,375.25 1506.77,374.08 1510.06,375.69 1513.36,374.03 1516.66,375.27 1519.96,374.51 1523.25,375.23 1526.55,374.77 1529.85,375.66 1533.15,377.52 1536.45,377.75 1539.74,378.72 1543.04,378.79 1546.34,379.65 1549.64,380.31 1552.93,380.57 1556.23,379.85 1559.53,379.24 1562.83,380.24 1566.13,380.74 1569.42,379.85 1572.72,380.69 1576.02,380.87 1579.32,380.92 1582.62,381.19 1585.91,381.35 1589.21,381.89 1592.51,381.11 1595.81,381.36 1599.11,380.76 1602.40,381.33 1605.70,381.83 1609.00,380.88 1612.30,379.94 1615.59,380.67 1618.89,380.80 1622.19,380.93 1625.49,380.98 1628.79,380.87 1632.08,381.52 1635.38,380.68 1638.68,381.74 1641.98,381.84 1645.28,381.47 1648.57,381.49 1651.87,381.99 1655.17,381.22 1658.47,380.42 1661.76,380.60 1665.06,381.70 1668.36,381.42" fill="none" stroke="#2424f0" stroke-width="0.90" stroke-linejoin="round" stroke-linecap="round"/>
<path d="M1299.00 64.39V118.18M1295.50 64.39h7.00M1295.50 118.18h7.00M1302.30 247.00V261.16M1298.80 247.00h7.00M1298.80 261.16h7.00M1305.60 278.85V288.76M1302.10 278.85h7.00M1302.10 288.76h7.00M1308.89 268.94V278.85M1305.39 268.94h7.00M1305.39 278.85h7.00M1312.19 221.52V235.68M1308.69 221.52h7.00M1308.69 235.68h7.00M1315.49 210.90V220.81M1311.99 210.90h7.00M1311.99 220.81h7.00M1318.79 219.40V232.14M1315.29 219.40h7.00M1315.29 232.14h7.00M1322.09 243.46V251.96M1318.59 243.46h7.00M1318.59 251.96h7.00M1325.38 119.60V139.42M1321.88 119.60h7.00M1321.88 139.42h7.00M1328.68 175.23V188.54M1325.18 175.23h7.00M1325.18 188.54h7.00M1331.98 180.04V192.22M1328.48 180.04h7.00M1328.48 192.22h7.00M1335.28 260.45V266.11M1331.78 260.45h7.00M1331.78 266.11h7.00M1338.57 227.18V238.51M1335.07 227.18h7.00M1335.07 238.51h7.00M1341.87 246.29V256.20M1338.37 246.29h7.00M1338.37 256.20h7.00M1345.17 218.69V227.18M1341.67 218.69h7.00M1341.67 227.18h7.00M1348.47 294.42V298.67M1344.97 294.42h7.00M1344.97 298.67h7.00M1351.77 253.66V258.75M1348.27 253.66h7.00M1348.27 258.75h7.00M1355.06 263.71V275.60M1351.56 263.71h7.00M1351.56 275.60h7.00M1358.36 276.73V285.22M1354.86 276.73h7.00M1354.86 285.22h7.00M1361.66 297.26V301.50M1358.16 297.26h7.00M1358.16 301.50h7.00M1364.96 255.64V259.03M1361.46 255.64h7.00M1361.46 259.03h7.00M1368.26 281.68V285.93M1364.76 281.68h7.00M1364.76 285.93h7.00M1371.55 286.64V292.30M1368.05 286.64h7.00M1368.05 292.30h7.00M1374.85 290.89V295.13M1371.35 290.89h7.00M1371.35 295.13h7.00M1378.15 269.23V272.91M1374.65 269.23h7.00M1374.65 272.91h7.00M1381.45 306.46V309.29M1377.95 306.46h7.00M1377.95 309.29h7.00M1384.74 297.68V301.08M1381.24 297.68h7.00M1381.24 301.08h7.00M1388.04 316.37V319.20M1384.54 316.37h7.00M1384.54 319.20h7.00M1391.34 310.14V312.97M1387.84 310.14h7.00M1387.84 312.97h7.00M1394.64 323.44V326.28M1391.14 323.44h7.00M1391.14 326.28h7.00M1397.94 326.98V329.81M1394.44 326.98h7.00M1394.44 329.81h7.00M1401.23 334.77V337.60M1397.73 334.77h7.00M1397.73 337.60h7.00M1404.53 322.25V327.31M1401.03 322.25h7.00M1401.03 327.31h7.00M1407.83 336.02V340.76M1404.33 336.02h7.00M1404.33 340.76h7.00M1411.13 338.60V343.05M1407.63 338.60h7.00M1407.63 343.05h7.00M1414.42 341.06V345.24M1410.92 341.06h7.00M1410.92 345.24h7.00M1417.72 347.01V350.94M1414.22 347.01h7.00M1414.22 350.94h7.00M1421.02 345.03V348.72M1417.52 345.03h7.00M1417.52 348.72h7.00M1424.32 346.51V349.99M1420.82 346.51h7.00M1420.82 349.99h7.00M1427.62 353.56V356.84M1424.12 353.56h7.00M1424.12 356.84h7.00M1430.91 347.16V350.23M1427.41 347.16h7.00M1427.41 350.23h7.00M1434.21 349.17V352.05M1430.71 349.17h7.00M1430.71 352.05h7.00M1437.51 352.31V355.00M1434.01 352.31h7.00M1434.01 355.00h7.00M1440.81 352.01V354.52M1437.31 352.01h7.00M1437.31 354.52h7.00M1444.11 353.27V355.60M1440.61 353.27h7.00M1440.61 355.60h7.00M1447.40 358.42V360.60M1443.90 358.42h7.00M1443.90 360.60h7.00M1450.70 361.22V363.27M1447.20 361.22h7.00M1447.20 363.27h7.00M1454.00 365.17V367.08M1450.50 365.17h7.00M1450.50 367.08h7.00M1457.30 363.14V364.94M1453.80 363.14h7.00M1453.80 364.94h7.00M1460.60 365.02V366.71M1457.10 365.02h7.00M1457.10 366.71h7.00M1463.89 365.89V367.47M1460.39 365.89h7.00M1460.39 367.47h7.00M1467.19 369.32V370.80M1463.69 369.32h7.00M1463.69 370.80h7.00M1470.49 366.11V367.51M1466.99 366.11h7.00M1466.99 367.51h7.00M1473.79 368.87V370.19M1470.29 368.87h7.00M1470.29 370.19h7.00M1477.08 370.28V371.52M1473.58 370.28h7.00M1473.58 371.52h7.00M1480.38 368.45V369.62M1476.88 368.45h7.00M1476.88 369.62h7.00M1483.68 371.32V372.43M1480.18 371.32h7.00M1480.18 372.43h7.00M1486.98 373.29V374.33M1483.48 373.29h7.00M1483.48 374.33h7.00M1490.28 372.89V373.88M1486.78 372.89h7.00M1486.78 373.88h7.00M1493.57 375.02V375.95M1490.07 375.02h7.00M1490.07 375.95h7.00M1496.87 372.78V373.66M1493.37 372.78h7.00M1493.37 373.66h7.00M1500.17 374.35V375.20M1496.67 374.35h7.00M1496.67 375.20h7.00M1503.47 374.83V375.68M1499.97 374.83h7.00M1499.97 375.68h7.00M1506.77 373.65V374.50M1503.27 373.65h7.00M1503.27 374.50h7.00M1510.06 375.26V376.11M1506.56 375.26h7.00M1506.56 376.11h7.00M1513.36 373.61V374.46M1509.86 373.61h7.00M1509.86 374.46h7.00M1516.66 374.85V375.70M1513.16 374.85h7.00M1513.16 375.70h7.00M1519.96 374.08V374.93M1516.46 374.08h7.00M1516.46 374.93h7.00M1523.25 374.81V375.65M1519.75 374.81h7.00M1519.75 375.65h7.00M1526.55 374.34V375.19M1523.05 374.34h7.00M1523.05 375.19h7.00M1529.85 375.24V376.09M1526.35 375.24h7.00M1526.35 376.09h7.00M1533.15 377.09V377.94M1529.65 377.09h7.00M1529.65 377.94h7.00M1536.45 377.33V378.18M1532.95 377.33h7.00M1532.95 378.18h7.00M1539.74 378.30V379.15M1536.24 378.30h7.00M1536.24 379.15h7.00M1543.04 378.37V379.22M1539.54 378.37h7.00M1539.54 379.22h7.00M1546.34 379.23V380.08M1542.84 379.23h7.00M1542.84 380.08h7.00M1549.64 379.89V380.73M1546.14 379.89h7.00M1546.14 380.73h7.00M1552.93 380.15V381.00M1549.43 380.15h7.00M1549.43 381.00h7.00M1556.23 379.42V380.27M1552.73 379.42h7.00M1552.73 380.27h7.00M1559.53 378.81V379.66M1556.03 378.81h7.00M1556.03 379.66h7.00M1562.83 379.82V380.67M1559.33 379.82h7.00M1559.33 380.67h7.00M1566.13 380.31V381.16M1562.63 380.31h7.00M1562.63 381.16h7.00M1569.42 379.42V380.27M1565.92 379.42h7.00M1565.92 380.27h7.00M1572.72 380.27V381.12M1569.22 380.27h7.00M1569.22 381.12h7.00M1576.02 380.45V381.30M1572.52 380.45h7.00M1572.52 381.30h7.00M1579.32 380.50V381.35M1575.82 380.50h7.00M1575.82 381.35h7.00M1582.62 380.76V381.61M1579.12 380.76h7.00M1579.12 381.61h7.00M1585.91 380.93V381.77M1582.41 380.93h7.00M1582.41 381.77h7.00M1589.21 381.47V382.32M1585.71 381.47h7.00M1585.71 382.32h7.00M1592.51 380.68V381.53M1589.01 380.68h7.00M1589.01 381.53h7.00M1595.81 380.93V381.78M1592.31 380.93h7.00M1592.31 381.78h7.00M1599.11 380.34V381.19M1595.61 380.34h7.00M1595.61 381.19h7.00M1602.40 380.90V381.75M1598.90 380.90h7.00M1598.90 381.75h7.00M1605.70 381.41V382.26M1602.20 381.41h7.00M1602.20 382.26h7.00M1609.00 380.46V381.31M1605.50 380.46h7.00M1605.50 381.31h7.00M1612.30 379.51V380.36M1608.80 379.51h7.00M1608.80 380.36h7.00M1615.59 380.24V381.09M1612.09 380.24h7.00M1612.09 381.09h7.00M1618.89 380.37V381.22M1615.39 380.37h7.00M1615.39 381.22h7.00M1622.19 380.51V381.36M1618.69 380.51h7.00M1618.69 381.36h7.00M1625.49 380.56V381.41M1621.99 380.56h7.00M1621.99 381.41h7.00M1628.79 380.45V381.30M1625.29 380.45h7.00M1625.29 381.30h7.00M1632.08 381.09V381.94M1628.58 381.09h7.00M1628.58 381.94h7.00M1635.38 380.26V381.11M1631.88 380.26h7.00M1631.88 381.11h7.00M1638.68 381.32V382.17M1635.18 381.32h7.00M1635.18 382.17h7.00M1641.98 381.42V382.27M1638.48 381.42h7.00M1638.48 382.27h7.00M1645.28 381.04V381.89M1641.78 381.04h7.00M1641.78 381.89h7.00M1648.57 381.06V381.91M1645.07 381.06h7.00M1645.07 381.91h7.00M1651.87 381.57V382.42M1648.37 381.57h7.00M1648.37 382.42h7.00M1655.17 380.79V381.64M1651.67 380.79h7.00M1651.67 381.64h7.00M1658.47 380.00V380.85M1654.97 380.00h7.00M1654.97 380.85h7.00M1661.76 380.18V381.03M1658.26 380.18h7.00M1658.26 381.03h7.00M1665.06 381.28V382.13M1661.56 381.28h7.00M1661.56 382.13h7.00M1668.36 381.00V381.85M1664.86 381.00h7.00M1664.86 381.85h7.00" stroke="#2424f0" stroke-width="1.30" fill="none"/>
<polyline points="1299.00,124.13 1299.98,127.25 1300.97,130.32 1301.95,133.34 1302.93,136.30 1303.92,139.21 1304.90,142.05 1305.88,144.84 1306.87,147.58 1307.85,150.25 1308.84,152.83 1309.82,155.32 1310.80,157.73 1311.79,160.08 1312.77,162.37 1313.75,164.62 1314.74,166.84 1315.72,169.06 1316.70,171.27 1317.69,173.49 1318.67,175.73 1319.65,178.01 1320.64,180.32 1321.62,182.69 1322.61,185.12 1323.59,187.68 1324.57,190.46 1325.56,193.28 1326.54,196.12 1327.52,198.97 1328.51,201.81 1329.49,204.62 1330.47,207.40 1331.46,210.12 1332.44,212.77 1333.42,215.34 1334.41,217.83 1335.39,220.24 1336.38,222.60 1337.36,224.90 1338.34,227.16 1339.33,229.38 1340.31,231.56 1341.29,233.72 1342.28,235.87 1343.26,237.99 1344.24,240.11 1345.23,242.23 1346.21,244.35 1347.19,246.47 1348.18,248.60 1349.16,250.73 1350.15,252.85 1351.13,254.96 1352.11,257.06 1353.10,259.14 1354.08,261.19 1355.06,263.22 1356.05,265.22 1357.03,267.18 1358.01,269.11 1359.00,270.99 1359.98,272.84 1360.96,274.64 1361.95,276.39 1362.93,278.09 1363.92,279.75 1364.90,281.36 1365.88,282.93 1366.87,284.46 1367.85,285.96 1368.83,287.44 1369.82,288.89 1370.80,290.31 1371.78,291.72 1372.77,293.11 1373.75,294.49 1374.74,295.86 1375.72,297.23 1376.70,298.58 1377.69,299.94 1378.67,301.29 1379.65,302.65 1380.64,304.00 1381.62,305.36 1382.60,306.71 1383.59,308.06 1384.57,309.39 1385.55,310.71 1386.54,312.01 1387.52,313.30 1388.51,314.56 1389.49,315.80 1390.47,317.02 1391.46,318.20 1392.44,319.37 1393.42,320.52 1394.41,321.65 1395.39,322.76 1396.37,323.85 1397.36,324.92 1398.34,325.98 1399.32,327.02 1400.31,328.05 1401.29,329.06 1402.28,330.06 1403.26,331.04 1404.24,332.01 1405.23,332.97 1406.21,333.91 1407.19,334.85 1408.18,335.76 1409.16,336.66 1410.14,337.54 1411.13,338.40 1412.11,339.24 1413.09,340.06 1414.08,340.86 1415.06,341.64 1416.05,342.39 1417.03,343.13 1418.01,343.84 1419.00,344.54 1419.98,345.22 1420.96,345.89 1421.95,346.54 1422.93,347.18 1423.91,347.82 1424.90,348.44 1425.88,349.05 1426.86,349.66 1427.85,350.27 1428.83,350.86 1429.82,351.46 1430.80,352.05 1431.78,352.63 1432.77,353.22 1433.75,353.80 1434.73,354.38 1435.72,354.96 1436.70,355.53 1437.68,356.09 1438.67,356.65 1439.65,357.20 1440.63,357.73 1441.62,358.26 1442.60,358.77 1443.59,359.28 1444.57,359.76 1445.55,360.24 1446.54,360.70 1447.52,361.14 1448.50,361.57 1449.49,361.99 1450.47,362.39 1451.45,362.79 1452.44,363.17 1453.42,363.55 1454.40,363.92 1455.39,364.28 1456.37,364.63 1457.36,364.97 1458.34,365.31 1459.32,365.64 1460.31,365.96 1461.29,366.27 1462.27,366.58 1463.26,366.88 1464.24,367.17 1465.22,367.46 1466.21,367.74 1467.19,368.02 1468.17,368.28 1469.16,368.55 1470.14,368.80 1471.12,369.06 1472.11,369.30 1473.09,369.54 1474.08,369.78 1475.06,370.01 1476.04,370.24 1477.03,370.46 1478.01,370.67 1478.99,370.88 1479.98,371.09 1480.96,371.29 1481.94,371.49 1482.93,371.69 1483.91,371.88 1484.89,372.06 1485.88,372.25 1486.86,372.43 1487.85,372.60 1488.83,372.78 1489.81,372.95 1490.80,373.12 1491.78,373.28 1492.76,373.44 1493.75,373.60 1494.73,373.76 1495.71,373.92 1496.70,374.07 1497.68,374.22 1498.66,374.36 1499.65,374.51 1500.63,374.65 1501.62,374.79 1502.60,374.92 1503.58,375.05 1504.57,375.18 1505.55,375.31 1506.53,375.44 1507.52,375.56 1508.50,375.68 1509.48,375.80 1510.47,375.92 1511.45,376.04 1512.43,376.15 1513.42,376.26 1514.40,376.38 1515.39,376.49 1516.37,376.59 1517.35,376.70 1518.34,376.80 1519.32,376.91 1520.30,377.01 1521.29,377.11 1522.27,377.21 1523.25,377.31 1524.24,377.41 1525.22,377.51 1526.20,377.60 1527.19,377.70 1528.17,377.79 1529.16,377.88 1530.14,377.97 1531.12,378.06 1532.11,378.15 1533.09,378.24 1534.07,378.33 1535.06,378.42 1536.04,378.51 1537.02,378.59 1538.01,378.68 1538.99,378.76 1539.97,378.85 1540.96,378.93 1541.94,379.01 1542.93,379.09 1543.91,379.17 1544.89,379.24 1545.88,379.32 1546.86,379.39 1547.84,379.46 1548.83,379.53 1549.81,379.60 1550.79,379.67 1551.78,379.73 1552.76,379.80 1553.75,379.86 1554.73,379.92 1555.71,379.98 1556.70,380.04 1557.68,380.09 1558.66,380.15 1559.65,380.20 1560.63,380.25 1561.61,380.30 1562.60,380.35 1563.58,380.40 1564.56,380.44 1565.55,380.49 1566.53,380.53 1567.52,380.58 1568.50,380.62 1569.48,380.66 1570.47,380.70 1571.45,380.74 1572.43,380.78 1573.42,380.82 1574.40,380.86 1575.38,380.89 1576.37,380.93 1577.35,380.97 1578.33,381.00 1579.32,381.04 1580.30,381.07 1581.29,381.10 1582.27,381.14 1583.25,381.17 1584.24,381.20 1585.22,381.23 1586.20,381.26 1587.19,381.29 1588.17,381.32 1589.15,381.35 1590.14,381.38 1591.12,381.41 1592.10,381.44 1593.09,381.47 1594.07,381.49 1595.05,381.52 1596.04,381.55 1597.02,381.57 1598.01,381.60 1598.99,381.62 1599.97,381.65 1600.96,381.67 1601.94,381.70 1602.92,381.72 1603.91,381.74 1604.89,381.77 1605.87,381.79 1606.86,381.81 1607.84,381.84 1608.83,381.86 1609.81,381.88 1610.79,381.90 1611.78,381.92 1612.76,381.94 1613.74,381.96 1614.73,381.98 1615.71,382.00 1616.69,382.02 1617.68,382.04 1618.66,382.06 1619.64,382.08 1620.63,382.10 1621.61,382.11 1622.60,382.13 1623.58,382.15 1624.56,382.17 1625.55,382.18 1626.53,382.20 1627.51,382.22 1628.50,382.23 1629.48,382.25 1630.46,382.27 1631.45,382.28 1632.43,382.30 1633.41,382.31 1634.40,382.33 1635.38,382.34 1636.37,382.36 1637.35,382.37 1638.33,382.38 1639.32,382.40 1640.30,382.41 1641.28,382.42 1642.27,382.44 1643.25,382.45 1644.23,382.46 1645.22,382.47 1646.20,382.49 1647.18,382.50 1648.17,382.51 1649.15,382.52 1650.13,382.53 1651.12,382.55 1652.10,382.56 1653.09,382.57 1654.07,382.58 1655.05,382.59 1656.04,382.60 1657.02,382.61 1658.00,382.62 1658.99,382.63 1659.97,382.64 1660.95,382.65 1661.94,382.66 1662.92,382.67 1663.91,382.68 1664.89,382.69 1665.87,382.70 1666.86,382.71 1667.84,382.72 1668.82,382.73 1669.81,382.73 1670.79,382.74 1671.77,382.75 1672.76,382.76 1673.74,382.77 1674.72,382.78 1675.71,382.79 1676.69,382.79 1677.67,382.80 1678.66,382.81 1679.64,382.82 1680.63,382.82 1681.61,382.83 1682.59,382.84 1683.58,382.85 1684.56,382.85 1685.54,382.86 1686.53,382.87 1687.51,382.87 1688.49,382.88 1689.48,382.89 1690.46,382.89 1691.45,382.90" fill="none" stroke="#d800ee" stroke-width="3.20" stroke-linejoin="round" stroke-linecap="round"/>
<polyline points="1299.00,182.03 1299.98,182.73 1300.97,183.49 1301.95,184.32 1302.93,185.20 1303.92,186.13 1304.90,187.10 1305.88,188.12 1306.87,189.18 1307.85,190.27 1308.84,191.39 1309.82,192.53 1310.80,193.69 1311.79,194.87 1312.77,196.14 1313.75,197.50 1314.74,198.93 1315.72,200.41 1316.70,201.92 1317.69,203.46 1318.67,205.01 1319.65,206.54 1320.64,208.06 1321.62,209.63 1322.61,211.23 1323.59,212.84 1324.57,214.47 1325.56,216.08 1326.54,217.68 1327.52,219.24 1328.51,220.76 1329.49,222.23 1330.47,223.63 1331.46,224.97 1332.44,226.29 1333.42,227.61 1334.41,228.95 1335.39,230.32 1336.38,231.76 1337.36,233.27 1338.34,234.85 1339.33,236.50 1340.31,238.20 1341.29,239.93 1342.28,241.69 1343.26,243.47 1344.24,245.25 1345.23,247.04 1346.21,248.81 1347.19,250.56 1348.18,252.32 1349.16,254.09 1350.15,255.87 1351.13,257.64 1352.11,259.41 1353.10,261.18 1354.08,262.94 1355.06,264.69 1356.05,266.43 1357.03,268.15 1358.01,269.86 1359.00,271.55 1359.98,273.21 1360.96,274.86 1361.95,276.48 1362.93,278.07 1363.92,279.64 1364.90,281.19 1365.88,282.72 1366.87,284.23 1367.85,285.72 1368.83,287.20 1369.82,288.66 1370.80,290.11 1371.78,291.55 1372.77,292.97 1373.75,294.38 1374.74,295.78 1375.72,297.17 1376.70,298.55 1377.69,299.93 1378.67,301.29 1379.65,302.65 1380.64,304.00 1381.62,305.36 1382.60,306.71 1383.59,308.06 1384.57,309.39 1385.55,310.71 1386.54,312.01 1387.52,313.30 1388.51,314.56 1389.49,315.80 1390.47,317.02 1391.46,318.20 1392.44,319.37 1393.42,320.52 1394.41,321.65 1395.39,322.76 1396.37,323.85 1397.36,324.92 1398.34,325.98 1399.32,327.02 1400.31,328.05 1401.29,329.06 1402.28,330.06 1403.26,331.04 1404.24,332.01 1405.23,332.97 1406.21,333.91 1407.19,334.85 1408.18,335.76 1409.16,336.66 1410.14,337.54 1411.13,338.40 1412.11,339.24 1413.09,340.06 1414.08,340.86 1415.06,341.64 1416.05,342.39 1417.03,343.13 1418.01,343.84 1419.00,344.54 1419.98,345.22 1420.96,345.89 1421.95,346.54 1422.93,347.18 1423.91,347.82 1424.90,348.44 1425.88,349.05 1426.86,349.66 1427.85,350.27 1428.83,350.86 1429.82,351.46 1430.80,352.05 1431.78,352.63 1432.77,353.22 1433.75,353.80 1434.73,354.38 1435.72,354.96 1436.70,355.53 1437.68,356.09 1438.67,356.65 1439.65,357.20 1440.63,357.73 1441.62,358.26 1442.60,358.77 1443.59,359.28 1444.57,359.76 1445.55,360.24 1446.54,360.70 1447.52,361.14 1448.50,361.57 1449.49,361.99 1450.47,362.39 1451.45,362.79 1452.44,363.17 1453.42,363.55 1454.40,363.92 1455.39,364.28 1456.37,364.63 1457.36,364.97 1458.34,365.31 1459.32,365.64 1460.31,365.96 1461.29,366.27 1462.27,366.58 1463.26,366.88 1464.24,367.17 1465.22,367.46 1466.21,367.74 1467.19,368.02 1468.17,368.28 1469.16,368.55 1470.14,368.80 1471.12,369.06 1472.11,369.30 1473.09,369.54 1474.08,369.78 1475.06,370.01 1476.04,370.24 1477.03,370.46 1478.01,370.67 1478.99,370.88 1479.98,371.09 1480.96,371.29 1481.94,371.49 1482.93,371.69 1483.91,371.88 1484.89,372.06 1485.88,372.25 1486.86,372.43 1487.85,372.60 1488.83,372.78 1489.81,372.95 1490.80,373.12 1491.78,373.28 1492.76,373.44 1493.75,373.60 1494.73,373.76 1495.71,373.92 1496.70,374.07 1497.68,374.22 1498.66,374.36 1499.65,374.51 1500.63,374.65 1501.62,374.79 1502.60,374.92 1503.58,375.05 1504.57,375.18 1505.55,375.31 1506.53,375.44 1507.52,375.56 1508.50,375.68 1509.48,375.80 1510.47,375.92 1511.45,376.04 1512.43,376.15 1513.42,376.26 1514.40,376.38 1515.39,376.49 1516.37,376.59 1517.35,376.70 1518.34,376.80 1519.32,376.91 1520.30,377.01 1521.29,377.11 1522.27,377.21 1523.25,377.31 1524.24,377.41 1525.22,377.51 1526.20,377.60 1527.19,377.70 1528.17,377.79 1529.16,377.88 1530.14,377.97 1531.12,378.06 1532.11,378.15 1533.09,378.24 1534.07,378.33 1535.06,378.42 1536.04,378.51 1537.02,378.59 1538.01,378.68 1538.99,378.76 1539.97,378.85 1540.96,378.93 1541.94,379.01 1542.93,379.09 1543.91,379.17 1544.89,379.24 1545.88,379.32 1546.86,379.39 1547.84,379.46 1548.83,379.53 1549.81,379.60 1550.79,379.67 1551.78,379.73 1552.76,379.80 1553.75,379.86 1554.73,379.92 1555.71,379.98 1556.70,380.04 1557.68,380.09 1558.66,380.15 1559.65,380.20 1560.63,380.25 1561.61,380.30 1562.60,380.35 1563.58,380.40 1564.56,380.44 1565.55,380.49 1566.53,380.53 1567.52,380.58 1568.50,380.62 1569.48,380.66 1570.47,380.70 1571.45,380.74 1572.43,380.78 1573.42,380.82 1574.40,380.86 1575.38,380.89 1576.37,380.93 1577.35,380.97 1578.33,381.00 1579.32,381.04 1580.30,381.07 1581.29,381.10 1582.27,381.14 1583.25,381.17 1584.24,381.20 1585.22,381.23 1586.20,381.26 1587.19,381.29 1588.17,381.32 1589.15,381.35 1590.14,381.38 1591.12,381.41 1592.10,381.44 1593.09,381.47 1594.07,381.49 1595.05,381.52 1596.04,381.55 1597.02,381.57 1598.01,381.60 1598.99,381.62 1599.97,381.65 1600.96,381.67 1601.94,381.70 1602.92,381.72 1603.91,381.74 1604.89,381.77 1605.87,381.79 1606.86,381.81 1607.84,381.84 1608.83,381.86 1609.81,381.88 1610.79,381.90 1611.78,381.92 1612.76,381.94 1613.74,381.96 1614.73,381.98 1615.71,382.00 1616.69,382.02 1617.68,382.04 1618.66,382.06 1619.64,382.08 1620.63,382.10 1621.61,382.11 1622.60,382.13 1623.58,382.15 1624.56,382.17 1625.55,382.18 1626.53,382.20 1627.51,382.22 1628.50,382.23 1629.48,382.25 1630.46,382.27 1631.45,382.28 1632.43,382.30 1633.41,382.31 1634.40,382.33 1635.38,382.34 1636.37,382.36 1637.35,382.37 1638.33,382.38 1639.32,382.40 1640.30,382.41 1641.28,382.42 1642.27,382.44 1643.25,382.45 1644.23,382.46 1645.22,382.47 1646.20,382.49 1647.18,382.50 1648.17,382.51 1649.15,382.52 1650.13,382.53 1651.12,382.55 1652.10,382.56 1653.09,382.57 1654.07,382.58 1655.05,382.59 1656.04,382.60 1657.02,382.61 1658.00,382.62 1658.99,382.63 1659.97,382.64 1660.95,382.65 1661.94,382.66 1662.92,382.67 1663.91,382.68 1664.89,382.69 1665.87,382.70 1666.86,382.71 1667.84,382.72 1668.82,382.73 1669.81,382.73 1670.79,382.74 1671.77,382.75 1672.76,382.76 1673.74,382.77 1674.72,382.78 1675.71,382.79 1676.69,382.79 1677.67,382.80 1678.66,382.81 1679.64,382.82 1680.63,382.82 1681.61,382.83 1682.59,382.84 1683.58,382.85 1684.56,382.85 1685.54,382.86 1686.53,382.87 1687.51,382.87 1688.49,382.88 1689.48,382.89 1690.46,382.89 1691.45,382.90" fill="none" stroke="#d800ee" stroke-width="3.20" stroke-linejoin="round" stroke-linecap="round"/>
<text x="1290.70" y="390.50" font-family='"Liberation Sans", Arial, Helvetica, sans-serif' font-size="20.40" font-weight="normal" fill="#1a1a1a" text-anchor="end">0</text>
<text x="1290.70" y="319.72" font-family='"Liberation Sans", Arial, Helvetica, sans-serif' font-size="20.40" font-weight="normal" fill="#1a1a1a" text-anchor="end">5</text>
<text x="1289.40" y="248.94" font-family='"Liberation Sans", Arial, Helvetica, sans-serif' font-size="20.40" font-weight="normal" fill="#1a1a1a" text-anchor="end">10</text>
<text x="1289.40" y="178.16" font-family='"Liberation Sans", Arial, Helvetica, sans-serif' font-size="20.40" font-weight="normal" fill="#1a1a1a" text-anchor="end">15</text>
<text x="1289.40" y="107.38" font-family='"Liberation Sans", Arial, Helvetica, sans-serif' font-size="20.40" font-weight="normal" fill="#1a1a1a" text-anchor="end">20</text>
<text x="1289.40" y="36.60" font-family='"Liberation Sans", Arial, Helvetica, sans-serif' font-size="20.40" font-weight="normal" fill="#1a1a1a" text-anchor="end">25</text>
<text x="1298.00" y="410.50" font-family='"Liberation Sans", Arial, Helvetica, sans-serif' font-size="20.40" font-weight="normal" fill="#1a1a1a" text-anchor="middle">10</text>
<text x="1413.42" y="410.50" font-family='"Liberation Sans", Arial, Helvetica, sans-serif' font-size="20.40" font-weight="normal" fill="#1a1a1a" text-anchor="middle">15</text>
<text x="1528.85" y="410.50" font-family='"Liberation Sans", Arial, Helvetica, sans-serif' font-size="20.40" font-weight="normal" fill="#1a1a1a" text-anchor="middle">20</text>
<text x="1644.28" y="410.50" font-family='"Liberation Sans", Arial, Helvetica, sans-serif' font-size="20.40" font-weight="normal" fill="#1a1a1a" text-anchor="middle">25</text>
<text x="1759.70" y="410.50" font-family='"Liberation Sans", Arial, Helvetica, sans-serif' font-size="20.40" font-weight="normal" fill="#1a1a1a" text-anchor="middle">30</text>
<text x="1423.00" y="437.60" font-family='"Liberation Sans", Arial, Helvetica, sans-serif' font-size="22.00" font-weight="normal" fill="#1a1a1a" text-anchor="start">t in calendar weeks</text>
<text x="1257.80" y="207.00" font-family='"Liberation Sans", Arial, Helvetica, sans-serif' font-size="22.00" font-weight="normal" fill="#1a1a1a" text-anchor="middle" transform="rotate(-90 1257.8 207.0)">R0</text>
<text x="1220.20" y="29.50" font-family='"Liberation Sans", Arial, Helvetica, sans-serif' font-size="37.00" font-weight="bold" fill="#000" text-anchor="start">C</text>
<path d="M275.10 678.00H779.50M275.10 1072.90H779.50M779.50 678.00V1072.90" stroke="#8c8c8c" stroke-width="1.30" fill="none" stroke-linecap="square"/>
<path d="M275.10 678.00V1072.90" stroke="#6a6a6a" stroke-width="1.20" fill="none" stroke-linecap="square"/>
<path d="M275.10 1072.90v-5.00M275.10 678.00v5.00M401.20 1072.90v-5.00M401.20 678.00v5.00M527.30 1072.90v-5.00M527.30 678.00v5.00M653.40 1072.90v-5.00M653.40 678.00v5.00M779.50 1072.90v-5.00M779.50 678.00v5.00M275.10 1072.90h5.00M779.50 1072.90h-5.00M275.10 1016.49h5.00M779.50 1016.49h-5.00M275.10 960.07h5.00M779.50 960.07h-5.00M275.10 903.66h5.00M779.50 903.66h-5.00M275.10 847.24h5.00M779.50 847.24h-5.00M275.10 790.83h5.00M779.50 790.83h-5.00M275.10 734.41h5.00M779.50 734.41h-5.00M275.10 678.00h5.00M779.50 678.00h-5.00" stroke="#7a7a7a" stroke-width="1.3" fill="none"/>
<polyline points="275.10,713.47 276.17,715.97 277.25,718.49 278.32,721.02 279.40,723.56 280.47,726.12 281.55,728.69 282.62,731.27 283.70,733.87 284.77,736.47 285.85,739.09 286.92,741.71 287.99,744.35 289.07,746.99 290.14,749.65 291.22,752.31 292.29,754.98 293.37,757.65 294.44,760.34 295.52,763.03 296.59,765.72 297.67,768.43 298.74,771.13 299.81,773.84 300.89,776.56 301.96,779.28 303.04,782.00 304.11,784.72 305.19,787.45 306.26,790.18 307.34,792.91 308.41,795.64 309.49,798.37 310.56,801.10 311.63,803.83 312.71,806.56 313.78,809.28 314.86,812.01 315.93,814.73 317.01,817.45 318.08,820.17 319.16,822.88 320.23,825.58 321.31,828.29 322.38,830.98 323.45,833.67 324.53,836.36 325.60,839.03 326.68,841.70 327.75,844.37 328.83,847.02 329.90,849.66 330.98,852.30 332.05,854.93 333.12,857.54 334.20,860.15 335.27,862.74 336.35,865.32 337.42,867.89 338.50,870.45 339.57,873.00 340.65,875.53 341.72,878.04 342.80,880.55 343.87,883.03 344.94,885.51 346.02,887.96 347.09,890.40 348.17,892.83 349.24,895.23 350.32,897.62 351.39,899.99 352.47,902.34 353.54,904.67 354.62,906.99 355.69,909.28 356.76,911.55 357.84,913.80 358.91,916.03 359.99,918.24 361.06,920.42 362.14,922.58 363.21,924.72 364.29,926.83 365.36,928.92 366.44,930.99 367.51,933.03 368.58,935.04 369.66,937.03 370.73,938.99 371.81,940.93 372.88,942.83 373.96,944.72 375.03,946.58 376.11,948.41 377.18,950.22 378.26,952.01 379.33,953.77 380.40,955.51 381.48,957.22 382.55,958.91 383.63,960.58 384.70,962.23 385.78,963.85 386.85,965.45 387.93,967.03 389.00,968.59 390.08,970.12 391.15,971.64 392.22,973.13 393.30,974.61 394.37,976.06 395.45,977.49 396.52,978.91 397.60,980.30 398.67,981.67 399.75,983.03 400.82,984.37 401.90,985.68 402.97,986.98 404.04,988.27 405.12,989.53 406.19,990.78 407.27,992.01 408.34,993.22 409.42,994.41 410.49,995.59 411.57,996.76 412.64,997.91 413.72,999.04 414.79,1000.15 415.86,1001.26 416.94,1002.34 418.01,1003.41 419.09,1004.47 420.16,1005.52 421.24,1006.55 422.31,1007.56 423.39,1008.56 424.46,1009.55 425.54,1010.53 426.61,1011.49 427.68,1012.44 428.76,1013.37 429.83,1014.29 430.91,1015.20 431.98,1016.09 433.06,1016.98 434.13,1017.85 435.21,1018.70 436.28,1019.55 437.35,1020.38 438.43,1021.20 439.50,1022.01 440.58,1022.80 441.65,1023.59 442.73,1024.36 443.80,1025.12 444.88,1025.87 445.95,1026.60 447.03,1027.33 448.10,1028.04 449.17,1028.74 450.25,1029.44 451.32,1030.12 452.40,1030.79 453.47,1031.45 454.55,1032.10 455.62,1032.73 456.70,1033.36 457.77,1033.98 458.85,1034.59 459.92,1035.18 460.99,1035.77 462.07,1036.35 463.14,1036.91 464.22,1037.47 465.29,1038.02 466.37,1038.56 467.44,1039.09 468.52,1039.61 469.59,1040.12 470.67,1040.62 471.74,1041.12 472.81,1041.60 473.89,1042.08 474.96,1042.55 476.04,1043.01 477.11,1043.46 478.19,1043.90 479.26,1044.33 480.34,1044.76 481.41,1045.18 482.49,1045.59 483.56,1045.99 484.63,1046.39 485.71,1046.78 486.78,1047.16 487.86,1047.53 488.93,1047.90 490.01,1048.26 491.08,1048.61 492.16,1048.96 493.23,1049.30 494.31,1049.63 495.38,1049.96 496.45,1050.28 497.53,1050.59 498.60,1050.90 499.68,1051.20 500.75,1051.50 501.83,1051.79 502.90,1052.07 503.98,1052.35 505.05,1052.63 506.13,1052.90 507.20,1053.16 508.27,1053.42 509.35,1053.67 510.42,1053.92 511.50,1054.16 512.57,1054.40 513.65,1054.63 514.72,1054.86 515.80,1055.09 516.87,1055.31 517.95,1055.53 519.02,1055.74 520.09,1055.95 521.17,1056.16 522.24,1056.36 523.32,1056.56 524.39,1056.75 525.47,1056.94 526.54,1057.13 527.62,1057.32 528.69,1057.50 529.77,1057.68 530.84,1057.86 531.91,1058.03 532.99,1058.20 534.06,1058.37 535.14,1058.54 536.21,1058.70 537.29,1058.86 538.36,1059.02 539.44,1059.18 540.51,1059.34 541.59,1059.49 542.66,1059.65 543.73,1059.80 544.81,1059.95 545.88,1060.10 546.96,1060.25 548.03,1060.39 549.11,1060.54 550.18,1060.68 551.26,1060.82 552.33,1060.97 553.40,1061.11 554.48,1061.25 555.55,1061.38 556.63,1061.52 557.70,1061.66 558.78,1061.79 559.85,1061.92 560.93,1062.06 562.00,1062.19 563.08,1062.32 564.15,1062.45 565.22,1062.57 566.30,1062.70 567.37,1062.82 568.45,1062.95 569.52,1063.07 570.60,1063.19 571.67,1063.31 572.75,1063.43 573.82,1063.55 574.90,1063.66 575.97,1063.78 577.04,1063.89 578.12,1064.01 579.19,1064.12 580.27,1064.23 581.34,1064.34 582.42,1064.45 583.49,1064.56 584.57,1064.66 585.64,1064.77 586.72,1064.87 587.79,1064.98 588.86,1065.08 589.94,1065.18 591.01,1065.28 592.09,1065.38 593.16,1065.48 594.24,1065.57 595.31,1065.67 596.39,1065.76 597.46,1065.86 598.54,1065.95 599.61,1066.04 600.68,1066.13 601.76,1066.22 602.83,1066.31 603.91,1066.39 604.98,1066.48 606.06,1066.56 607.13,1066.65 608.21,1066.73 609.28,1066.81 610.36,1066.89 611.43,1066.97 612.50,1067.05 613.58,1067.13 614.65,1067.21 615.73,1067.28 616.80,1067.36 617.88,1067.43 618.95,1067.51 620.03,1067.58 621.10,1067.65 622.18,1067.72 623.25,1067.79 624.32,1067.85 625.40,1067.92 626.47,1067.99 627.55,1068.05 628.62,1068.12 629.70,1068.18 630.77,1068.24 631.85,1068.30 632.92,1068.36 634.00,1068.42 635.07,1068.48 636.14,1068.54 637.22,1068.60 638.29,1068.65 639.37,1068.71 640.44,1068.76 641.52,1068.81 642.59,1068.87 643.67,1068.92 644.74,1068.97 645.82,1069.02 646.89,1069.07 647.96,1069.11 649.04,1069.16 650.11,1069.21 651.19,1069.25 652.26,1069.30 653.34,1069.34 654.41,1069.38 655.49,1069.42 656.56,1069.47 657.63,1069.51 658.71,1069.55 659.78,1069.58 660.86,1069.62 661.93,1069.66 663.01,1069.69 664.08,1069.73 665.16,1069.76 666.23,1069.80 667.31,1069.83 668.38,1069.86 669.45,1069.89 670.53,1069.92 671.60,1069.95 672.68,1069.98 673.75,1070.01 674.83,1070.04 675.90,1070.06 676.98,1070.09 678.05,1070.11 679.13,1070.14 680.20,1070.16 681.27,1070.18 682.35,1070.21 683.42,1070.23 684.50,1070.25 685.57,1070.27 686.65,1070.29 687.72,1070.30 688.80,1070.32 689.87,1070.34 690.95,1070.35 692.02,1070.37 693.09,1070.38 694.17,1070.40 695.24,1070.41 696.32,1070.42 697.39,1070.44 698.47,1070.45 699.54,1070.46 700.62,1070.47 701.69,1070.48 702.77,1070.48 703.84,1070.49" fill="none" stroke="#d80000" stroke-width="3.50" stroke-linejoin="round" stroke-linecap="round"/>
<polyline points="275.10,721.89 276.17,723.79 277.25,725.74 278.32,727.73 279.40,729.76 280.47,731.82 281.55,733.93 282.62,736.07 283.70,738.24 284.77,740.45 285.85,742.70 286.92,744.97 287.99,747.28 289.07,749.62 290.14,751.98 291.22,754.38 292.29,756.80 293.37,759.25 294.44,761.72 295.52,764.22 296.59,766.74 297.67,769.28 298.74,771.84 299.81,774.42 300.89,777.02 301.96,779.64 303.04,782.28 304.11,784.93 305.19,787.59 306.26,790.27 307.34,792.96 308.41,795.66 309.49,798.37 310.56,801.10 311.63,803.82 312.71,806.56 313.78,809.30 314.86,812.05 315.93,814.80 317.01,817.55 318.08,820.31 319.16,823.07 320.23,825.82 321.31,828.58 322.38,831.33 323.45,834.08 324.53,836.82 325.60,839.56 326.68,842.29 327.75,845.02 328.83,847.73 329.90,850.44 330.98,853.13 332.05,855.81 333.12,858.48 334.20,861.14 335.27,863.78 336.35,866.40 337.42,869.01 338.50,871.60 339.57,874.17 340.65,876.72 341.72,879.25 342.80,881.75 343.87,884.23 344.94,886.69 346.02,889.12 347.09,891.53 348.17,893.92 349.24,896.28 350.32,898.61 351.39,900.93 352.47,903.21 353.54,905.48 354.62,907.72 355.69,909.94 356.76,912.13 357.84,914.31 358.91,916.46 359.99,918.58 361.06,920.69 362.14,922.77 363.21,924.83 364.29,926.86 365.36,928.88 366.44,930.87 367.51,932.84 368.58,934.79 369.66,936.72 370.73,938.63 371.81,940.51 372.88,942.38 373.96,944.22 375.03,946.04 376.11,947.84 377.18,949.62 378.26,951.38 379.33,953.12 380.40,954.84 381.48,956.54 382.55,958.22 383.63,959.88 384.70,961.53 385.78,963.15 386.85,964.75 387.93,966.33 389.00,967.89 390.08,969.44 391.15,970.97 392.22,972.47 393.30,973.96 394.37,975.43 395.45,976.88 396.52,978.32 397.60,979.73 398.67,981.13 399.75,982.51 400.82,983.88 401.90,985.22 402.97,986.55 404.04,987.86 405.12,989.15 406.19,990.43 407.27,991.69 408.34,992.94 409.42,994.16 410.49,995.37 411.57,996.57 412.64,997.75 413.72,998.91 414.79,1000.06 415.86,1001.19 416.94,1002.30 418.01,1003.40 419.09,1004.49 420.16,1005.56 421.24,1006.61 422.31,1007.65 423.39,1008.68 424.46,1009.69 425.54,1010.68 426.61,1011.67 427.68,1012.63 428.76,1013.59 429.83,1014.53 430.91,1015.45 431.98,1016.36 433.06,1017.26 434.13,1018.15 435.21,1019.02 436.28,1019.87 437.35,1020.72 438.43,1021.55 439.50,1022.37 440.58,1023.17 441.65,1023.97 442.73,1024.75 443.80,1025.52 444.88,1026.27 445.95,1027.01 447.03,1027.75 448.10,1028.47 449.17,1029.17 450.25,1029.87 451.32,1030.55 452.40,1031.23 453.47,1031.89 454.55,1032.54 455.62,1033.18 456.70,1033.81 457.77,1034.42 458.85,1035.03 459.92,1035.63 460.99,1036.21 462.07,1036.79 463.14,1037.35 464.22,1037.91 465.29,1038.45 466.37,1038.99 467.44,1039.51 468.52,1040.03 469.59,1040.54 470.67,1041.03 471.74,1041.52 472.81,1042.00 473.89,1042.47 474.96,1042.93 476.04,1043.38 477.11,1043.83 478.19,1044.26 479.26,1044.69 480.34,1045.11 481.41,1045.52 482.49,1045.92 483.56,1046.31 484.63,1046.70 485.71,1047.08 486.78,1047.45 487.86,1047.81 488.93,1048.17 490.01,1048.52 491.08,1048.86 492.16,1049.19 493.23,1049.52 494.31,1049.84 495.38,1050.16 496.45,1050.47 497.53,1050.77 498.60,1051.07 499.68,1051.36 500.75,1051.64 501.83,1051.92 502.90,1052.19 503.98,1052.46 505.05,1052.72 506.13,1052.98 507.20,1053.23 508.27,1053.48 509.35,1053.72 510.42,1053.95 511.50,1054.19 512.57,1054.41 513.65,1054.63 514.72,1054.85 515.80,1055.07 516.87,1055.28 517.95,1055.48 519.02,1055.69 520.09,1055.88 521.17,1056.08 522.24,1056.27 523.32,1056.46 524.39,1056.64 525.47,1056.82 526.54,1057.00 527.62,1057.18 528.69,1057.35 529.77,1057.52 530.84,1057.69 531.91,1057.85 532.99,1058.02 534.06,1058.18 535.14,1058.34 536.21,1058.49 537.29,1058.65 538.36,1058.80 539.44,1058.95 540.51,1059.10 541.59,1059.25 542.66,1059.40 543.73,1059.55 544.81,1059.70 545.88,1059.84 546.96,1059.99 548.03,1060.13 549.11,1060.27 550.18,1060.41 551.26,1060.56 552.33,1060.70 553.40,1060.83 554.48,1060.97 555.55,1061.11 556.63,1061.25 557.70,1061.38 558.78,1061.52 559.85,1061.65 560.93,1061.79 562.00,1061.92 563.08,1062.05 564.15,1062.18 565.22,1062.31 566.30,1062.44 567.37,1062.57 568.45,1062.69 569.52,1062.82 570.60,1062.95 571.67,1063.07 572.75,1063.19 573.82,1063.32 574.90,1063.44 575.97,1063.56 577.04,1063.68 578.12,1063.80 579.19,1063.92 580.27,1064.03 581.34,1064.15 582.42,1064.26 583.49,1064.38 584.57,1064.49 585.64,1064.60 586.72,1064.71 587.79,1064.82 588.86,1064.93 589.94,1065.04 591.01,1065.15 592.09,1065.26 593.16,1065.36 594.24,1065.47 595.31,1065.57 596.39,1065.67 597.46,1065.77 598.54,1065.87 599.61,1065.97 600.68,1066.07 601.76,1066.17 602.83,1066.27 603.91,1066.36 604.98,1066.46 606.06,1066.55 607.13,1066.64 608.21,1066.74 609.28,1066.83 610.36,1066.92 611.43,1067.00 612.50,1067.09 613.58,1067.18 614.65,1067.26 615.73,1067.35 616.80,1067.43 617.88,1067.51 618.95,1067.59 620.03,1067.68 621.10,1067.75 622.18,1067.83 623.25,1067.91 624.32,1067.99 625.40,1068.06 626.47,1068.13 627.55,1068.21 628.62,1068.28 629.70,1068.35 630.77,1068.42 631.85,1068.49 632.92,1068.56 634.00,1068.62 635.07,1068.69 636.14,1068.75 637.22,1068.81 638.29,1068.88 639.37,1068.94 640.44,1069.00 641.52,1069.06 642.59,1069.11 643.67,1069.17 644.74,1069.22 645.82,1069.28 646.89,1069.33 647.96,1069.38 649.04,1069.43 650.11,1069.48 651.19,1069.53 652.26,1069.58 653.34,1069.63 654.41,1069.67 655.49,1069.72 656.56,1069.76 657.63,1069.80 658.71,1069.84 659.78,1069.88 660.86,1069.92 661.93,1069.95 663.01,1069.99 664.08,1070.03 665.16,1070.06 666.23,1070.09 667.31,1070.12 668.38,1070.15 669.45,1070.18 670.53,1070.21 671.60,1070.24 672.68,1070.26 673.75,1070.28 674.83,1070.31 675.90,1070.33 676.98,1070.35 678.05,1070.37 679.13,1070.39 680.20,1070.40 681.27,1070.42 682.35,1070.43 683.42,1070.45 684.50,1070.46 685.57,1070.47 686.65,1070.48 687.72,1070.49 688.80,1070.49 689.87,1070.50 690.95,1070.50 692.02,1070.51 693.09,1070.51 694.17,1070.51 695.24,1070.51 696.32,1070.51 697.39,1070.50 698.47,1070.50 699.54,1070.49 700.62,1070.49 701.69,1070.48 702.77,1070.47 703.84,1070.46" fill="none" stroke="#d80000" stroke-width="3.50" stroke-linejoin="round" stroke-linecap="round"/>
<text x="266.30" y="1080.90" font-family='"Liberation Sans", Arial, Helvetica, sans-serif' font-size="22.00" font-weight="normal" fill="#1a1a1a" text-anchor="end">0</text>
<text x="263.30" y="1024.49" font-family='"Liberation Sans", Arial, Helvetica, sans-serif' font-size="22.00" font-weight="normal" fill="#1a1a1a" text-anchor="end">0.2</text>
<text x="263.30" y="968.07" font-family='"Liberation Sans", Arial, Helvetica, sans-serif' font-size="22.00" font-weight="normal" fill="#1a1a1a" text-anchor="end">0.4</text>
<text x="263.30" y="911.66" font-family='"Liberation Sans", Arial, Helvetica, sans-serif' font-size="22.00" font-weight="normal" fill="#1a1a1a" text-anchor="end">0.6</text>
<text x="263.30" y="855.24" font-family='"Liberation Sans", Arial, Helvetica, sans-serif' font-size="22.00" font-weight="normal" fill="#1a1a1a" text-anchor="end">0.8</text>
<text x="266.30" y="798.83" font-family='"Liberation Sans", Arial, Helvetica, sans-serif' font-size="22.00" font-weight="normal" fill="#1a1a1a" text-anchor="end">1</text>
<text x="263.30" y="742.41" font-family='"Liberation Sans", Arial, Helvetica, sans-serif' font-size="22.00" font-weight="normal" fill="#1a1a1a" text-anchor="end">1.2</text>
<text x="263.30" y="686.00" font-family='"Liberation Sans", Arial, Helvetica, sans-serif' font-size="22.00" font-weight="normal" fill="#1a1a1a" text-anchor="end">1.4</text>
<text x="274.10" y="1103.00" font-family='"Liberation Sans", Arial, Helvetica, sans-serif' font-size="22.00" font-weight="normal" fill="#1a1a1a" text-anchor="middle">10</text>
<text x="400.20" y="1103.00" font-family='"Liberation Sans", Arial, Helvetica, sans-serif' font-size="22.00" font-weight="normal" fill="#1a1a1a" text-anchor="middle">15</text>
<text x="526.30" y="1103.00" font-family='"Liberation Sans", Arial, Helvetica, sans-serif' font-size="22.00" font-weight="normal" fill="#1a1a1a" text-anchor="middle">20</text>
<text x="652.40" y="1103.00" font-family='"Liberation Sans", Arial, Helvetica, sans-serif' font-size="22.00" font-weight="normal" fill="#1a1a1a" text-anchor="middle">25</text>
<text x="778.50" y="1103.00" font-family='"Liberation Sans", Arial, Helvetica, sans-serif' font-size="22.00" font-weight="normal" fill="#1a1a1a" text-anchor="middle">30</text>
<text x="408.40" y="1133.50" font-family='"Liberation Sans", Arial, Helvetica, sans-serif' font-size="24.20" font-weight="normal" fill="#1a1a1a" text-anchor="start">t in calendar weeks</text>
<text x="221.70" y="882.00" font-family='"Liberation Sans", Arial, Helvetica, sans-serif' font-size="24.20" font-weight="normal" fill="#1a1a1a" text-anchor="middle" transform="rotate(-90 221.7 882.0)">gamma</text>
<text x="3.00" y="691.00" font-family='"Liberation Sans", Arial, Helvetica, sans-serif' font-size="37.00" font-weight="bold" fill="#000" text-anchor="start">D</text>
<path d="M1067.50 678.40H1565.60M1067.50 1072.80H1565.60M1565.60 678.40V1072.80" stroke="#8c8c8c" stroke-width="1.30" fill="none" stroke-linecap="square"/>
<path d="M1067.50 678.40V1072.80" stroke="#6a6a6a" stroke-width="1.20" fill="none" stroke-linecap="square"/>
<path d="M1067.50 1072.80v-5.00M1067.50 678.40v5.00M1192.03 1072.80v-5.00M1192.03 678.40v5.00M1316.55 1072.80v-5.00M1316.55 678.40v5.00M1441.07 1072.80v-5.00M1441.07 678.40v5.00M1565.60 1072.80v-5.00M1565.60 678.40v5.00M1067.50 1072.80h5.00M1565.60 1072.80h-5.00M1067.50 1023.50h5.00M1565.60 1023.50h-5.00M1067.50 974.20h5.00M1565.60 974.20h-5.00M1067.50 924.90h5.00M1565.60 924.90h-5.00M1067.50 875.60h5.00M1565.60 875.60h-5.00M1067.50 826.30h5.00M1565.60 826.30h-5.00M1067.50 777.00h5.00M1565.60 777.00h-5.00M1067.50 727.70h5.00M1565.60 727.70h-5.00M1067.50 678.40h5.00M1565.60 678.40h-5.00" stroke="#7a7a7a" stroke-width="1.3" fill="none"/>
<polyline points="1067.50,999.16 1068.56,999.52 1069.62,999.88 1070.68,1000.22 1071.74,1000.55 1072.80,1000.88 1073.86,1001.19 1074.91,1001.49 1075.97,1001.78 1077.03,1002.05 1078.09,1002.32 1079.15,1002.57 1080.21,1002.82 1081.27,1003.05 1082.33,1003.27 1083.39,1003.49 1084.45,1003.69 1085.51,1003.88 1086.57,1004.05 1087.63,1004.22 1088.68,1004.38 1089.74,1004.52 1090.80,1004.66 1091.86,1004.78 1092.92,1004.89 1093.98,1004.99 1095.04,1005.08 1096.10,1005.16 1097.16,1005.23 1098.22,1005.29 1099.28,1005.34 1100.34,1005.37 1101.40,1005.40 1102.46,1005.41 1103.51,1005.41 1104.57,1005.40 1105.63,1005.38 1106.69,1005.35 1107.75,1005.31 1108.81,1005.26 1109.87,1005.20 1110.93,1005.12 1111.99,1005.04 1113.05,1004.94 1114.11,1004.84 1115.17,1004.72 1116.23,1004.59 1117.28,1004.45 1118.34,1004.30 1119.40,1004.14 1120.46,1003.97 1121.52,1003.78 1122.58,1003.59 1123.64,1003.38 1124.70,1003.17 1125.76,1002.94 1126.82,1002.71 1127.88,1002.46 1128.94,1002.20 1130.00,1001.93 1131.05,1001.65 1132.11,1001.36 1133.17,1001.05 1134.23,1000.74 1135.29,1000.42 1136.35,1000.08 1137.41,999.74 1138.47,999.38 1139.53,999.01 1140.59,998.63 1141.65,998.24 1142.71,997.85 1143.77,997.43 1144.82,997.01 1145.88,996.58 1146.94,996.14 1148.00,995.68 1149.06,995.22 1150.12,994.74 1151.18,994.26 1152.24,993.76 1153.30,993.25 1154.36,992.74 1155.42,992.21 1156.48,991.67 1157.54,991.12 1158.59,990.56 1159.65,989.98 1160.71,989.40 1161.77,988.81 1162.83,988.20 1163.89,987.59 1164.95,986.96 1166.01,986.33 1167.07,985.68 1168.13,985.02 1169.19,984.35 1170.25,983.67 1171.31,982.98 1172.37,982.28 1173.42,981.57 1174.48,980.85 1175.54,980.12 1176.60,979.37 1177.66,978.62 1178.72,977.85 1179.78,977.08 1180.84,976.29 1181.90,975.50 1182.96,974.69 1184.02,973.87 1185.08,973.05 1186.14,972.21 1187.19,971.36 1188.25,970.51 1189.31,969.65 1190.37,968.77 1191.43,967.89 1192.49,967.00 1193.55,966.10 1194.61,965.20 1195.67,964.28 1196.73,963.36 1197.79,962.43 1198.85,961.49 1199.91,960.55 1200.96,959.60 1202.02,958.64 1203.08,957.67 1204.14,956.70 1205.20,955.73 1206.26,954.74 1207.32,953.75 1208.38,952.76 1209.44,951.76 1210.50,950.75 1211.56,949.74 1212.62,948.73 1213.68,947.71 1214.73,946.68 1215.79,945.65 1216.85,944.62 1217.91,943.58 1218.97,942.54 1220.03,941.50 1221.09,940.45 1222.15,939.40 1223.21,938.34 1224.27,937.29 1225.33,936.23 1226.39,935.17 1227.45,934.10 1228.50,933.04 1229.56,931.97 1230.62,930.90 1231.68,929.83 1232.74,928.76 1233.80,927.69 1234.86,926.61 1235.92,925.54 1236.98,924.46 1238.04,923.39 1239.10,922.31 1240.16,921.24 1241.22,920.16 1242.28,919.09 1243.33,918.02 1244.39,916.94 1245.45,915.87 1246.51,914.80 1247.57,913.73 1248.63,912.67 1249.69,911.60 1250.75,910.54 1251.81,909.48 1252.87,908.42 1253.93,907.36 1254.99,906.31 1256.05,905.26 1257.10,904.21 1258.16,903.16 1259.22,902.12 1260.28,901.07 1261.34,900.03 1262.40,899.00 1263.46,897.96 1264.52,896.92 1265.58,895.89 1266.64,894.85 1267.70,893.82 1268.76,892.79 1269.82,891.75 1270.87,890.72 1271.93,889.69 1272.99,888.66 1274.05,887.63 1275.11,886.60 1276.17,885.57 1277.23,884.54 1278.29,883.50 1279.35,882.47 1280.41,881.44 1281.47,880.40 1282.53,879.36 1283.59,878.33 1284.64,877.29 1285.70,876.24 1286.76,875.20 1287.82,874.16 1288.88,873.11 1289.94,872.06 1291.00,871.01 1292.06,869.95 1293.12,868.90 1294.18,867.84 1295.24,866.78 1296.30,865.71 1297.36,864.64 1298.41,863.57 1299.47,862.49 1300.53,861.41 1301.59,860.33 1302.65,859.25 1303.71,858.16 1304.77,857.07 1305.83,855.98 1306.89,854.89 1307.95,853.80 1309.01,852.70 1310.07,851.61 1311.13,850.52 1312.19,849.42 1313.24,848.33 1314.30,847.24 1315.36,846.15 1316.42,845.06 1317.48,843.97 1318.54,842.89 1319.60,841.81 1320.66,840.73 1321.72,839.65 1322.78,838.58 1323.84,837.51 1324.90,836.44 1325.96,835.38 1327.01,834.33 1328.07,833.28 1329.13,832.23 1330.19,831.19 1331.25,830.15 1332.31,829.12 1333.37,828.10 1334.43,827.08 1335.49,826.06 1336.55,825.05 1337.61,824.05 1338.67,823.05 1339.73,822.05 1340.78,821.06 1341.84,820.08 1342.90,819.10 1343.96,818.12 1345.02,817.15 1346.08,816.19 1347.14,815.23 1348.20,814.27 1349.26,813.32 1350.32,812.37 1351.38,811.43 1352.44,810.49 1353.50,809.56 1354.55,808.63 1355.61,807.71 1356.67,806.79 1357.73,805.88 1358.79,804.97 1359.85,804.07 1360.91,803.17 1361.97,802.27 1363.03,801.38 1364.09,800.50 1365.15,799.62 1366.21,798.74 1367.27,797.87 1368.32,797.00 1369.38,796.14 1370.44,795.28 1371.50,794.42 1372.56,793.58 1373.62,792.73 1374.68,791.89 1375.74,791.05 1376.80,790.22 1377.86,789.39 1378.92,788.57 1379.98,787.75 1381.04,786.93 1382.10,786.12 1383.15,785.32 1384.21,784.51 1385.27,783.71 1386.33,782.92 1387.39,782.13 1388.45,781.34 1389.51,780.56 1390.57,779.79 1391.63,779.01 1392.69,778.24 1393.75,777.48 1394.81,776.72 1395.87,775.96 1396.92,775.20 1397.98,774.46 1399.04,773.71 1400.10,772.97 1401.16,772.23 1402.22,771.50 1403.28,770.77 1404.34,770.04 1405.40,769.32 1406.46,768.60 1407.52,767.89 1408.58,767.18 1409.64,766.47 1410.69,765.77 1411.75,765.07 1412.81,764.37 1413.87,763.68 1414.93,762.99 1415.99,762.31 1417.05,761.63 1418.11,760.95 1419.17,760.27 1420.23,759.60 1421.29,758.94 1422.35,758.27 1423.41,757.62 1424.46,756.96 1425.52,756.31 1426.58,755.66 1427.64,755.01 1428.70,754.37 1429.76,753.73 1430.82,753.10 1431.88,752.47 1432.94,751.84 1434.00,751.21 1435.06,750.59 1436.12,749.97 1437.18,749.36 1438.23,748.75 1439.29,748.14 1440.35,747.53 1441.41,746.93 1442.47,746.33 1443.53,745.74 1444.59,745.15 1445.65,744.56 1446.71,743.97 1447.77,743.39 1448.83,742.81 1449.89,742.23 1450.95,741.66 1452.01,741.09 1453.06,740.52 1454.12,739.96 1455.18,739.40 1456.24,738.84 1457.30,738.29 1458.36,737.74 1459.42,737.19 1460.48,736.64 1461.54,736.10 1462.60,735.56 1463.66,735.02 1464.72,734.49 1465.78,733.96 1466.83,733.43 1467.89,732.90 1468.95,732.38 1470.01,731.86 1471.07,731.35 1472.13,730.83 1473.19,730.32 1474.25,729.81 1475.31,729.31 1476.37,728.80 1477.43,728.30 1478.49,727.81 1479.55,727.31 1480.60,726.82 1481.66,726.33 1482.72,725.84 1483.78,725.36 1484.84,724.88 1485.90,724.40 1486.96,723.92 1488.02,723.45 1489.08,722.97 1490.14,722.51" fill="none" stroke="#0000f0" stroke-width="2.70" stroke-linejoin="round" stroke-linecap="round"/>
<polyline points="1067.50,1052.06 1068.56,1051.37 1069.62,1050.67 1070.68,1049.99 1071.74,1049.31 1072.80,1048.64 1073.86,1047.97 1074.91,1047.31 1075.97,1046.65 1077.03,1045.99 1078.09,1045.34 1079.15,1044.70 1080.21,1044.06 1081.27,1043.42 1082.33,1042.78 1083.39,1042.15 1084.45,1041.52 1085.51,1040.89 1086.57,1040.26 1087.63,1039.64 1088.68,1039.01 1089.74,1038.39 1090.80,1037.76 1091.86,1037.14 1092.92,1036.52 1093.98,1035.90 1095.04,1035.27 1096.10,1034.65 1097.16,1034.02 1098.22,1033.39 1099.28,1032.76 1100.34,1032.13 1101.40,1031.50 1102.46,1030.86 1103.51,1030.22 1104.57,1029.58 1105.63,1028.93 1106.69,1028.28 1107.75,1027.62 1108.81,1026.96 1109.87,1026.30 1110.93,1025.63 1111.99,1024.96 1113.05,1024.27 1114.11,1023.59 1115.17,1022.89 1116.23,1022.19 1117.28,1021.49 1118.34,1020.77 1119.40,1020.05 1120.46,1019.32 1121.52,1018.58 1122.58,1017.84 1123.64,1017.08 1124.70,1016.32 1125.76,1015.55 1126.82,1014.76 1127.88,1013.97 1128.94,1013.17 1130.00,1012.35 1131.05,1011.53 1132.11,1010.69 1133.17,1009.85 1134.23,1008.99 1135.29,1008.12 1136.35,1007.24 1137.41,1006.35 1138.47,1005.45 1139.53,1004.54 1140.59,1003.62 1141.65,1002.69 1142.71,1001.76 1143.77,1000.81 1144.82,999.86 1145.88,998.90 1146.94,997.94 1148.00,996.97 1149.06,996.00 1150.12,995.01 1151.18,994.03 1152.24,993.04 1153.30,992.05 1154.36,991.05 1155.42,990.05 1156.48,989.04 1157.54,988.04 1158.59,987.03 1159.65,986.02 1160.71,985.01 1161.77,984.00 1162.83,982.98 1163.89,981.97 1164.95,980.96 1166.01,979.94 1167.07,978.93 1168.13,977.92 1169.19,976.91 1170.25,975.90 1171.31,974.89 1172.37,973.89 1173.42,972.88 1174.48,971.88 1175.54,970.89 1176.60,969.89 1177.66,968.90 1178.72,967.92 1179.78,966.94 1180.84,965.96 1181.90,964.99 1182.96,964.02 1184.02,963.06 1185.08,962.10 1186.14,961.15 1187.19,960.20 1188.25,959.25 1189.31,958.31 1190.37,957.37 1191.43,956.43 1192.49,955.50 1193.55,954.57 1194.61,953.64 1195.67,952.72 1196.73,951.79 1197.79,950.87 1198.85,949.96 1199.91,949.04 1200.96,948.13 1202.02,947.22 1203.08,946.31 1204.14,945.40 1205.20,944.49 1206.26,943.59 1207.32,942.68 1208.38,941.78 1209.44,940.88 1210.50,939.97 1211.56,939.07 1212.62,938.17 1213.68,937.27 1214.73,936.37 1215.79,935.48 1216.85,934.58 1217.91,933.68 1218.97,932.78 1220.03,931.89 1221.09,930.99 1222.15,930.10 1223.21,929.21 1224.27,928.31 1225.33,927.42 1226.39,926.53 1227.45,925.64 1228.50,924.75 1229.56,923.86 1230.62,922.97 1231.68,922.08 1232.74,921.19 1233.80,920.31 1234.86,919.42 1235.92,918.53 1236.98,917.65 1238.04,916.76 1239.10,915.88 1240.16,915.00 1241.22,914.11 1242.28,913.23 1243.33,912.35 1244.39,911.47 1245.45,910.59 1246.51,909.71 1247.57,908.83 1248.63,907.95 1249.69,907.07 1250.75,906.19 1251.81,905.32 1252.87,904.44 1253.93,903.56 1254.99,902.69 1256.05,901.81 1257.10,900.93 1258.16,900.05 1259.22,899.17 1260.28,898.28 1261.34,897.39 1262.40,896.50 1263.46,895.60 1264.52,894.69 1265.58,893.78 1266.64,892.85 1267.70,891.92 1268.76,890.98 1269.82,890.03 1270.87,889.07 1271.93,888.09 1272.99,887.11 1274.05,886.11 1275.11,885.09 1276.17,884.06 1277.23,883.02 1278.29,881.96 1279.35,880.88 1280.41,879.79 1281.47,878.67 1282.53,877.54 1283.59,876.39 1284.64,875.21 1285.70,874.02 1286.76,872.81 1287.82,871.58 1288.88,870.34 1289.94,869.09 1291.00,867.82 1292.06,866.53 1293.12,865.24 1294.18,863.94 1295.24,862.62 1296.30,861.30 1297.36,859.97 1298.41,858.64 1299.47,857.30 1300.53,855.96 1301.59,854.62 1302.65,853.27 1303.71,851.92 1304.77,850.58 1305.83,849.24 1306.89,847.90 1307.95,846.56 1309.01,845.23 1310.07,843.90 1311.13,842.59 1312.19,841.28 1313.24,839.98 1314.30,838.69 1315.36,837.41 1316.42,836.14 1317.48,834.88 1318.54,833.63 1319.60,832.39 1320.66,831.16 1321.72,829.94 1322.78,828.72 1323.84,827.51 1324.90,826.32 1325.96,825.13 1327.01,823.94 1328.07,822.77 1329.13,821.60 1330.19,820.44 1331.25,819.28 1332.31,818.14 1333.37,816.99 1334.43,815.86 1335.49,814.73 1336.55,813.61 1337.61,812.49 1338.67,811.38 1339.73,810.27 1340.78,809.17 1341.84,808.07 1342.90,806.98 1343.96,805.89 1345.02,804.80 1346.08,803.72 1347.14,802.65 1348.20,801.57 1349.26,800.50 1350.32,799.44 1351.38,798.37 1352.44,797.31 1353.50,796.25 1354.55,795.20 1355.61,794.14 1356.67,793.09 1357.73,792.04 1358.79,790.99 1359.85,789.94 1360.91,788.89 1361.97,787.85 1363.03,786.80 1364.09,785.76 1365.15,784.72 1366.21,783.68 1367.27,782.64 1368.32,781.60 1369.38,780.57 1370.44,779.53 1371.50,778.50 1372.56,777.47 1373.62,776.44 1374.68,775.41 1375.74,774.39 1376.80,773.37 1377.86,772.35 1378.92,771.33 1379.98,770.31 1381.04,769.30 1382.10,768.29 1383.15,767.28 1384.21,766.27 1385.27,765.27 1386.33,764.26 1387.39,763.26 1388.45,762.27 1389.51,761.27 1390.57,760.28 1391.63,759.30 1392.69,758.31 1393.75,757.33 1394.81,756.35 1395.87,755.37 1396.92,754.40 1397.98,753.43 1399.04,752.46 1400.10,751.50 1401.16,750.54 1402.22,749.58 1403.28,748.63 1404.34,747.68 1405.40,746.74 1406.46,745.79 1407.52,744.86 1408.58,743.92 1409.64,742.99 1410.69,742.06 1411.75,741.14 1412.81,740.22 1413.87,739.31 1414.93,738.40 1415.99,737.49 1417.05,736.59 1418.11,735.69 1419.17,734.79 1420.23,733.91 1421.29,733.02 1422.35,732.14 1423.41,731.26 1424.46,730.39 1425.52,729.53 1426.58,728.66 1427.64,727.81 1428.70,726.95 1429.76,726.11 1430.82,725.27 1431.88,724.43 1432.94,723.60 1434.00,722.77 1435.06,721.95 1436.12,721.13 1437.18,720.32 1438.23,719.51 1439.29,718.71 1440.35,717.92 1441.41,717.13 1442.47,716.34 1443.53,715.57 1444.59,714.79 1445.65,714.03 1446.71,713.27 1447.77,712.51 1448.83,711.76 1449.89,711.02 1450.95,710.28 1452.01,709.55 1453.06,708.83 1454.12,708.11 1455.18,707.40 1456.24,706.69 1457.30,705.99 1458.36,705.30 1459.42,704.61 1460.48,703.93 1461.54,703.26 1462.60,702.59 1463.66,701.93 1464.72,701.28 1465.78,700.63 1466.83,700.00 1467.89,699.36 1468.95,698.74 1470.01,698.12 1471.07,697.51 1472.13,696.91 1473.19,696.31 1474.25,695.72 1475.31,695.14 1476.37,694.57 1477.43,694.00 1478.49,693.44 1479.55,692.89 1480.60,692.34 1481.66,691.81 1482.72,691.28 1483.78,690.76 1484.84,690.25 1485.90,689.74 1486.96,689.25 1488.02,688.76 1489.08,688.28 1490.14,687.80" fill="none" stroke="#0000f0" stroke-width="2.70" stroke-linejoin="round" stroke-linecap="round"/>
<text x="1053.30" y="1080.80" font-family='"Liberation Sans", Arial, Helvetica, sans-serif' font-size="22.00" font-weight="normal" fill="#1a1a1a" text-anchor="end">0.06</text>
<text x="1053.30" y="1031.50" font-family='"Liberation Sans", Arial, Helvetica, sans-serif' font-size="22.00" font-weight="normal" fill="#1a1a1a" text-anchor="end">0.08</text>
<text x="1055.20" y="982.20" font-family='"Liberation Sans", Arial, Helvetica, sans-serif' font-size="22.00" font-weight="normal" fill="#1a1a1a" text-anchor="end">0.1</text>
<text x="1053.30" y="932.90" font-family='"Liberation Sans", Arial, Helvetica, sans-serif' font-size="22.00" font-weight="normal" fill="#1a1a1a" text-anchor="end">0.12</text>
<text x="1053.30" y="883.60" font-family='"Liberation Sans", Arial, Helvetica, sans-serif' font-size="22.00" font-weight="normal" fill="#1a1a1a" text-anchor="end">0.14</text>
<text x="1053.30" y="834.30" font-family='"Liberation Sans", Arial, Helvetica, sans-serif' font-size="22.00" font-weight="normal" fill="#1a1a1a" text-anchor="end">0.16</text>
<text x="1053.30" y="785.00" font-family='"Liberation Sans", Arial, Helvetica, sans-serif' font-size="22.00" font-weight="normal" fill="#1a1a1a" text-anchor="end">0.18</text>
<text x="1055.20" y="735.70" font-family='"Liberation Sans", Arial, Helvetica, sans-serif' font-size="22.00" font-weight="normal" fill="#1a1a1a" text-anchor="end">0.2</text>
<text x="1053.30" y="686.40" font-family='"Liberation Sans", Arial, Helvetica, sans-serif' font-size="22.00" font-weight="normal" fill="#1a1a1a" text-anchor="end">0.22</text>
<text x="1066.50" y="1102.70" font-family='"Liberation Sans", Arial, Helvetica, sans-serif' font-size="22.00" font-weight="normal" fill="#1a1a1a" text-anchor="middle">10</text>
<text x="1191.03" y="1102.70" font-family='"Liberation Sans", Arial, Helvetica, sans-serif' font-size="22.00" font-weight="normal" fill="#1a1a1a" text-anchor="middle">15</text>
<text x="1315.55" y="1102.70" font-family='"Liberation Sans", Arial, Helvetica, sans-serif' font-size="22.00" font-weight="normal" fill="#1a1a1a" text-anchor="middle">20</text>
<text x="1440.07" y="1102.70" font-family='"Liberation Sans", Arial, Helvetica, sans-serif' font-size="22.00" font-weight="normal" fill="#1a1a1a" text-anchor="middle">25</text>
<text x="1564.60" y="1102.70" font-family='"Liberation Sans", Arial, Helvetica, sans-serif' font-size="22.00" font-weight="normal" fill="#1a1a1a" text-anchor="middle">30</text>
<text x="1197.00" y="1133.50" font-family='"Liberation Sans", Arial, Helvetica, sans-serif' font-size="24.20" font-weight="normal" fill="#1a1a1a" text-anchor="start">t in calendar weeks</text>
<text x="1000.00" y="878.60" font-family='"Liberation Sans", Arial, Helvetica, sans-serif' font-size="24.20" font-weight="normal" fill="#1a1a1a" text-anchor="middle" transform="rotate(-90 1000.0 878.6)">eps</text>
<text x="966.60" y="691.00" font-family='"Liberation Sans", Arial, Helvetica, sans-serif' font-size="37.00" font-weight="bold" fill="#000" text-anchor="start">E</text>
<text x="81.50" y="507.30" font-family='"Liberation Serif", "DejaVu Serif", serif' font-size="43" fill="#000" textLength="212.20" lengthAdjust="spacingAndGlyphs">Cumulative</text>
<text x="320.00" y="507.30" font-family='"Liberation Serif", "DejaVu Serif", serif' font-size="43" fill="#000" textLength="138.30" lengthAdjust="spacingAndGlyphs">number</text>
<text x="484.90" y="507.30" font-family='"Liberation Serif", "DejaVu Serif", serif' font-size="43" fill="#000" textLength="37.80" lengthAdjust="spacingAndGlyphs">of</text>
<text x="546.90" y="507.30" font-family='"Liberation Serif", "DejaVu Serif", serif' font-size="43" fill="#000" textLength="48.10" lengthAdjust="spacingAndGlyphs">in-</text>
<text x="1.40" y="562.70" font-family='"Liberation Serif", "DejaVu Serif", serif' font-size="43" fill="#000" textLength="107.80" lengthAdjust="spacingAndGlyphs">fected</text>
<text x="122.80" y="562.70" font-family='"Liberation Serif", "DejaVu Serif", serif' font-size="43" fill="#000" textLength="92.90" lengthAdjust="spacingAndGlyphs">cases</text>
<text x="232.50" y="562.70" font-family='"Liberation Serif", "DejaVu Serif", serif' font-size="45.0" fill="#000" font-style="italic">I</text>
<text x="237.30" y="536.00" font-family='"Liberation Serif", "DejaVu Serif", serif' font-size="30.0" fill="#000">~</text>
<text x="251.40" y="562.70" font-family='"Liberation Serif", "DejaVu Serif", serif' font-size="43.0" fill="#000">.</text>
<text x="695.30" y="508.00" font-family='"Liberation Serif", "DejaVu Serif", serif' font-size="43" fill="#000" textLength="146.40" lengthAdjust="spacingAndGlyphs">Number</text>
<text x="856.40" y="508.00" font-family='"Liberation Serif", "DejaVu Serif", serif' font-size="43" fill="#000" textLength="37.70" lengthAdjust="spacingAndGlyphs">of</text>
<text x="904.90" y="508.00" font-family='"Liberation Serif", "DejaVu Serif", serif' font-size="43" fill="#000" textLength="171.40" lengthAdjust="spacingAndGlyphs">recovered</text>
<text x="1089.50" y="508.00" font-family='"Liberation Serif", "DejaVu Serif", serif' font-size="43" fill="#000" textLength="103.40" lengthAdjust="spacingAndGlyphs">cases.</text>
<text x="1345.80" y="508.00" font-family='"Liberation Serif", "DejaVu Serif", serif' font-size="43" fill="#000" textLength="248.40" lengthAdjust="spacingAndGlyphs">Reproduction</text>
<text x="1608.40" y="508.00" font-family='"Liberation Serif", "DejaVu Serif", serif' font-size="43" fill="#000" textLength="152.00" lengthAdjust="spacingAndGlyphs">number.</text>
<text x="515.30" y="1203.60" font-family='"Liberation Serif", "DejaVu Serif", serif' font-size="43" fill="#000" textLength="21.60" lengthAdjust="spacingAndGlyphs" font-style="italic">&#947;</text>
<text x="542.00" y="1203.60" font-family='"Liberation Serif", "DejaVu Serif", serif' font-size="43" fill="#000" textLength="43.50" lengthAdjust="spacingAndGlyphs">(<tspan font-style="italic">t</tspan>)</text>
<text x="1168.90" y="1203.60" font-family='"Liberation Serif", "DejaVu Serif", serif' font-size="43" fill="#000" textLength="163.70" lengthAdjust="spacingAndGlyphs">Recovery</text>
<text x="1347.60" y="1203.60" font-family='"Liberation Serif", "DejaVu Serif", serif' font-size="43" fill="#000" textLength="73.30" lengthAdjust="spacingAndGlyphs">rate</text>
<text x="1433.00" y="1203.60" font-family='"Liberation Serif", "DejaVu Serif", serif' font-size="43.0" fill="#000" font-style="italic">&#949;</text>
<text x="1453.30" y="1203.60" font-family='"Liberation Serif", "DejaVu Serif", serif' font-size="43" fill="#000" textLength="48.00" lengthAdjust="spacingAndGlyphs">(<tspan font-style="italic">t</tspan>)</text>
</svg>
</body></html>
